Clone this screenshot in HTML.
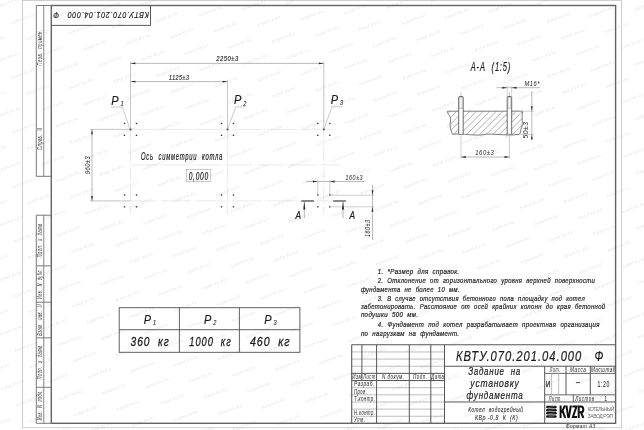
<!DOCTYPE html>
<html lang="ru">
<head>
<meta charset="utf-8">
<title>КВТУ.070.201.04.000 Ф - Задание на установку фундамента</title>
<style>
html,body{margin:0;padding:0;background:#fff;}
body{width:644px;height:430px;overflow:hidden;font-family:"Liberation Sans",sans-serif;}
#sheet{width:644px;height:430px;will-change:transform;background:#fff;}
svg{display:block;font-family:"Liberation Sans",sans-serif;}
</style>
</head>
<body>
<div id="sheet">
<svg width="644" height="430" viewBox="0 0 644 430">
<rect x="0" y="0" width="644" height="430" fill="#ffffff"/>
<g font-size="4.4" fill="#e8e8e8" font-style="italic" text-anchor="middle">
<text transform="translate(-15.7,408.4) rotate(-20.8)" textLength="25" lengthAdjust="spacingAndGlyphs">kotel-kv.kz</text>
<text transform="translate(-1.0,424.6) rotate(-20.8)" textLength="25" lengthAdjust="spacingAndGlyphs">kotel-kv.kz</text>
<text transform="translate(-16.4,353.8) rotate(-20.8)" textLength="25" lengthAdjust="spacingAndGlyphs">kotel-kv.kz</text>
<text transform="translate(-1.7,370.0) rotate(-20.8)" textLength="25" lengthAdjust="spacingAndGlyphs">kotel-kv.kz</text>
<text transform="translate(13.0,386.2) rotate(-20.8)" textLength="25" lengthAdjust="spacingAndGlyphs">kotel-kv.kz</text>
<text transform="translate(27.7,402.4) rotate(-20.8)" textLength="25" lengthAdjust="spacingAndGlyphs">kotel-kv.kz</text>
<text transform="translate(42.4,418.6) rotate(-20.8)" textLength="25" lengthAdjust="spacingAndGlyphs">kotel-kv.kz</text>
<text transform="translate(57.1,434.8) rotate(-20.8)" textLength="25" lengthAdjust="spacingAndGlyphs">kotel-kv.kz</text>
<text transform="translate(-17.1,299.2) rotate(-20.8)" textLength="25" lengthAdjust="spacingAndGlyphs">kotel-kv.kz</text>
<text transform="translate(-2.4,315.4) rotate(-20.8)" textLength="25" lengthAdjust="spacingAndGlyphs">kotel-kv.kz</text>
<text transform="translate(12.3,331.6) rotate(-20.8)" textLength="25" lengthAdjust="spacingAndGlyphs">kotel-kv.kz</text>
<text transform="translate(27.0,347.8) rotate(-20.8)" textLength="25" lengthAdjust="spacingAndGlyphs">kotel-kv.kz</text>
<text transform="translate(41.7,364.0) rotate(-20.8)" textLength="25" lengthAdjust="spacingAndGlyphs">kotel-kv.kz</text>
<text transform="translate(56.4,380.2) rotate(-20.8)" textLength="25" lengthAdjust="spacingAndGlyphs">kotel-kv.kz</text>
<text transform="translate(71.1,396.4) rotate(-20.8)" textLength="25" lengthAdjust="spacingAndGlyphs">kotel-kv.kz</text>
<text transform="translate(85.8,412.6) rotate(-20.8)" textLength="25" lengthAdjust="spacingAndGlyphs">kotel-kv.kz</text>
<text transform="translate(100.5,428.8) rotate(-20.8)" textLength="25" lengthAdjust="spacingAndGlyphs">kotel-kv.kz</text>
<text transform="translate(-17.8,244.6) rotate(-20.8)" textLength="25" lengthAdjust="spacingAndGlyphs">kotel-kv.kz</text>
<text transform="translate(-3.1,260.8) rotate(-20.8)" textLength="25" lengthAdjust="spacingAndGlyphs">kotel-kv.kz</text>
<text transform="translate(11.6,277.0) rotate(-20.8)" textLength="25" lengthAdjust="spacingAndGlyphs">kotel-kv.kz</text>
<text transform="translate(26.3,293.2) rotate(-20.8)" textLength="25" lengthAdjust="spacingAndGlyphs">kotel-kv.kz</text>
<text transform="translate(41.0,309.4) rotate(-20.8)" textLength="25" lengthAdjust="spacingAndGlyphs">kotel-kv.kz</text>
<text transform="translate(55.7,325.6) rotate(-20.8)" textLength="25" lengthAdjust="spacingAndGlyphs">kotel-kv.kz</text>
<text transform="translate(70.4,341.8) rotate(-20.8)" textLength="25" lengthAdjust="spacingAndGlyphs">kotel-kv.kz</text>
<text transform="translate(85.1,358.0) rotate(-20.8)" textLength="25" lengthAdjust="spacingAndGlyphs">kotel-kv.kz</text>
<text transform="translate(99.8,374.2) rotate(-20.8)" textLength="25" lengthAdjust="spacingAndGlyphs">kotel-kv.kz</text>
<text transform="translate(114.5,390.4) rotate(-20.8)" textLength="25" lengthAdjust="spacingAndGlyphs">kotel-kv.kz</text>
<text transform="translate(129.2,406.6) rotate(-20.8)" textLength="25" lengthAdjust="spacingAndGlyphs">kotel-kv.kz</text>
<text transform="translate(143.9,422.8) rotate(-20.8)" textLength="25" lengthAdjust="spacingAndGlyphs">kotel-kv.kz</text>
<text transform="translate(158.6,439.0) rotate(-20.8)" textLength="25" lengthAdjust="spacingAndGlyphs">kotel-kv.kz</text>
<text transform="translate(-18.5,190.0) rotate(-20.8)" textLength="25" lengthAdjust="spacingAndGlyphs">kotel-kv.kz</text>
<text transform="translate(-3.8,206.2) rotate(-20.8)" textLength="25" lengthAdjust="spacingAndGlyphs">kotel-kv.kz</text>
<text transform="translate(10.9,222.4) rotate(-20.8)" textLength="25" lengthAdjust="spacingAndGlyphs">kotel-kv.kz</text>
<text transform="translate(25.6,238.6) rotate(-20.8)" textLength="25" lengthAdjust="spacingAndGlyphs">kotel-kv.kz</text>
<text transform="translate(40.3,254.8) rotate(-20.8)" textLength="25" lengthAdjust="spacingAndGlyphs">kotel-kv.kz</text>
<text transform="translate(55.0,271.0) rotate(-20.8)" textLength="25" lengthAdjust="spacingAndGlyphs">kotel-kv.kz</text>
<text transform="translate(69.7,287.2) rotate(-20.8)" textLength="25" lengthAdjust="spacingAndGlyphs">kotel-kv.kz</text>
<text transform="translate(84.4,303.4) rotate(-20.8)" textLength="25" lengthAdjust="spacingAndGlyphs">kotel-kv.kz</text>
<text transform="translate(99.1,319.6) rotate(-20.8)" textLength="25" lengthAdjust="spacingAndGlyphs">kotel-kv.kz</text>
<text transform="translate(113.8,335.8) rotate(-20.8)" textLength="25" lengthAdjust="spacingAndGlyphs">kotel-kv.kz</text>
<text transform="translate(128.5,352.0) rotate(-20.8)" textLength="25" lengthAdjust="spacingAndGlyphs">kotel-kv.kz</text>
<text transform="translate(143.2,368.2) rotate(-20.8)" textLength="25" lengthAdjust="spacingAndGlyphs">kotel-kv.kz</text>
<text transform="translate(157.9,384.4) rotate(-20.8)" textLength="25" lengthAdjust="spacingAndGlyphs">kotel-kv.kz</text>
<text transform="translate(172.6,400.6) rotate(-20.8)" textLength="25" lengthAdjust="spacingAndGlyphs">kotel-kv.kz</text>
<text transform="translate(187.3,416.8) rotate(-20.8)" textLength="25" lengthAdjust="spacingAndGlyphs">kotel-kv.kz</text>
<text transform="translate(202.0,433.0) rotate(-20.8)" textLength="25" lengthAdjust="spacingAndGlyphs">kotel-kv.kz</text>
<text transform="translate(-19.2,135.4) rotate(-20.8)" textLength="25" lengthAdjust="spacingAndGlyphs">kotel-kv.kz</text>
<text transform="translate(-4.5,151.6) rotate(-20.8)" textLength="25" lengthAdjust="spacingAndGlyphs">kotel-kv.kz</text>
<text transform="translate(10.2,167.8) rotate(-20.8)" textLength="25" lengthAdjust="spacingAndGlyphs">kotel-kv.kz</text>
<text transform="translate(24.9,184.0) rotate(-20.8)" textLength="25" lengthAdjust="spacingAndGlyphs">kotel-kv.kz</text>
<text transform="translate(39.6,200.2) rotate(-20.8)" textLength="25" lengthAdjust="spacingAndGlyphs">kotel-kv.kz</text>
<text transform="translate(54.3,216.4) rotate(-20.8)" textLength="25" lengthAdjust="spacingAndGlyphs">kotel-kv.kz</text>
<text transform="translate(69.0,232.6) rotate(-20.8)" textLength="25" lengthAdjust="spacingAndGlyphs">kotel-kv.kz</text>
<text transform="translate(83.7,248.8) rotate(-20.8)" textLength="25" lengthAdjust="spacingAndGlyphs">kotel-kv.kz</text>
<text transform="translate(98.4,265.0) rotate(-20.8)" textLength="25" lengthAdjust="spacingAndGlyphs">kotel-kv.kz</text>
<text transform="translate(113.1,281.2) rotate(-20.8)" textLength="25" lengthAdjust="spacingAndGlyphs">kotel-kv.kz</text>
<text transform="translate(127.8,297.4) rotate(-20.8)" textLength="25" lengthAdjust="spacingAndGlyphs">kotel-kv.kz</text>
<text transform="translate(142.5,313.6) rotate(-20.8)" textLength="25" lengthAdjust="spacingAndGlyphs">kotel-kv.kz</text>
<text transform="translate(157.2,329.8) rotate(-20.8)" textLength="25" lengthAdjust="spacingAndGlyphs">kotel-kv.kz</text>
<text transform="translate(171.9,346.0) rotate(-20.8)" textLength="25" lengthAdjust="spacingAndGlyphs">kotel-kv.kz</text>
<text transform="translate(186.6,362.2) rotate(-20.8)" textLength="25" lengthAdjust="spacingAndGlyphs">kotel-kv.kz</text>
<text transform="translate(201.3,378.4) rotate(-20.8)" textLength="25" lengthAdjust="spacingAndGlyphs">kotel-kv.kz</text>
<text transform="translate(216.0,394.6) rotate(-20.8)" textLength="25" lengthAdjust="spacingAndGlyphs">kotel-kv.kz</text>
<text transform="translate(230.7,410.8) rotate(-20.8)" textLength="25" lengthAdjust="spacingAndGlyphs">kotel-kv.kz</text>
<text transform="translate(245.4,427.0) rotate(-20.8)" textLength="25" lengthAdjust="spacingAndGlyphs">kotel-kv.kz</text>
<text transform="translate(-19.9,80.8) rotate(-20.8)" textLength="25" lengthAdjust="spacingAndGlyphs">kotel-kv.kz</text>
<text transform="translate(-5.2,97.0) rotate(-20.8)" textLength="25" lengthAdjust="spacingAndGlyphs">kotel-kv.kz</text>
<text transform="translate(9.5,113.2) rotate(-20.8)" textLength="25" lengthAdjust="spacingAndGlyphs">kotel-kv.kz</text>
<text transform="translate(24.2,129.4) rotate(-20.8)" textLength="25" lengthAdjust="spacingAndGlyphs">kotel-kv.kz</text>
<text transform="translate(38.9,145.6) rotate(-20.8)" textLength="25" lengthAdjust="spacingAndGlyphs">kotel-kv.kz</text>
<text transform="translate(53.6,161.8) rotate(-20.8)" textLength="25" lengthAdjust="spacingAndGlyphs">kotel-kv.kz</text>
<text transform="translate(68.3,178.0) rotate(-20.8)" textLength="25" lengthAdjust="spacingAndGlyphs">kotel-kv.kz</text>
<text transform="translate(83.0,194.2) rotate(-20.8)" textLength="25" lengthAdjust="spacingAndGlyphs">kotel-kv.kz</text>
<text transform="translate(97.7,210.4) rotate(-20.8)" textLength="25" lengthAdjust="spacingAndGlyphs">kotel-kv.kz</text>
<text transform="translate(112.4,226.6) rotate(-20.8)" textLength="25" lengthAdjust="spacingAndGlyphs">kotel-kv.kz</text>
<text transform="translate(127.1,242.8) rotate(-20.8)" textLength="25" lengthAdjust="spacingAndGlyphs">kotel-kv.kz</text>
<text transform="translate(141.8,259.0) rotate(-20.8)" textLength="25" lengthAdjust="spacingAndGlyphs">kotel-kv.kz</text>
<text transform="translate(156.5,275.2) rotate(-20.8)" textLength="25" lengthAdjust="spacingAndGlyphs">kotel-kv.kz</text>
<text transform="translate(171.2,291.4) rotate(-20.8)" textLength="25" lengthAdjust="spacingAndGlyphs">kotel-kv.kz</text>
<text transform="translate(185.9,307.6) rotate(-20.8)" textLength="25" lengthAdjust="spacingAndGlyphs">kotel-kv.kz</text>
<text transform="translate(200.6,323.8) rotate(-20.8)" textLength="25" lengthAdjust="spacingAndGlyphs">kotel-kv.kz</text>
<text transform="translate(215.3,340.0) rotate(-20.8)" textLength="25" lengthAdjust="spacingAndGlyphs">kotel-kv.kz</text>
<text transform="translate(230.0,356.2) rotate(-20.8)" textLength="25" lengthAdjust="spacingAndGlyphs">kotel-kv.kz</text>
<text transform="translate(244.7,372.4) rotate(-20.8)" textLength="25" lengthAdjust="spacingAndGlyphs">kotel-kv.kz</text>
<text transform="translate(259.4,388.6) rotate(-20.8)" textLength="25" lengthAdjust="spacingAndGlyphs">kotel-kv.kz</text>
<text transform="translate(274.1,404.8) rotate(-20.8)" textLength="25" lengthAdjust="spacingAndGlyphs">kotel-kv.kz</text>
<text transform="translate(288.8,421.0) rotate(-20.8)" textLength="25" lengthAdjust="spacingAndGlyphs">kotel-kv.kz</text>
<text transform="translate(303.5,437.2) rotate(-20.8)" textLength="25" lengthAdjust="spacingAndGlyphs">kotel-kv.kz</text>
<text transform="translate(-5.9,42.4) rotate(-20.8)" textLength="25" lengthAdjust="spacingAndGlyphs">kotel-kv.kz</text>
<text transform="translate(8.8,58.6) rotate(-20.8)" textLength="25" lengthAdjust="spacingAndGlyphs">kotel-kv.kz</text>
<text transform="translate(23.5,74.8) rotate(-20.8)" textLength="25" lengthAdjust="spacingAndGlyphs">kotel-kv.kz</text>
<text transform="translate(38.2,91.0) rotate(-20.8)" textLength="25" lengthAdjust="spacingAndGlyphs">kotel-kv.kz</text>
<text transform="translate(52.9,107.2) rotate(-20.8)" textLength="25" lengthAdjust="spacingAndGlyphs">kotel-kv.kz</text>
<text transform="translate(67.6,123.4) rotate(-20.8)" textLength="25" lengthAdjust="spacingAndGlyphs">kotel-kv.kz</text>
<text transform="translate(82.3,139.6) rotate(-20.8)" textLength="25" lengthAdjust="spacingAndGlyphs">kotel-kv.kz</text>
<text transform="translate(97.0,155.8) rotate(-20.8)" textLength="25" lengthAdjust="spacingAndGlyphs">kotel-kv.kz</text>
<text transform="translate(111.7,172.0) rotate(-20.8)" textLength="25" lengthAdjust="spacingAndGlyphs">kotel-kv.kz</text>
<text transform="translate(126.4,188.2) rotate(-20.8)" textLength="25" lengthAdjust="spacingAndGlyphs">kotel-kv.kz</text>
<text transform="translate(141.1,204.4) rotate(-20.8)" textLength="25" lengthAdjust="spacingAndGlyphs">kotel-kv.kz</text>
<text transform="translate(155.8,220.6) rotate(-20.8)" textLength="25" lengthAdjust="spacingAndGlyphs">kotel-kv.kz</text>
<text transform="translate(170.5,236.8) rotate(-20.8)" textLength="25" lengthAdjust="spacingAndGlyphs">kotel-kv.kz</text>
<text transform="translate(185.2,253.0) rotate(-20.8)" textLength="25" lengthAdjust="spacingAndGlyphs">kotel-kv.kz</text>
<text transform="translate(199.9,269.2) rotate(-20.8)" textLength="25" lengthAdjust="spacingAndGlyphs">kotel-kv.kz</text>
<text transform="translate(214.6,285.4) rotate(-20.8)" textLength="25" lengthAdjust="spacingAndGlyphs">kotel-kv.kz</text>
<text transform="translate(229.3,301.6) rotate(-20.8)" textLength="25" lengthAdjust="spacingAndGlyphs">kotel-kv.kz</text>
<text transform="translate(244.0,317.8) rotate(-20.8)" textLength="25" lengthAdjust="spacingAndGlyphs">kotel-kv.kz</text>
<text transform="translate(258.7,334.0) rotate(-20.8)" textLength="25" lengthAdjust="spacingAndGlyphs">kotel-kv.kz</text>
<text transform="translate(273.4,350.2) rotate(-20.8)" textLength="25" lengthAdjust="spacingAndGlyphs">kotel-kv.kz</text>
<text transform="translate(288.1,366.4) rotate(-20.8)" textLength="25" lengthAdjust="spacingAndGlyphs">kotel-kv.kz</text>
<text transform="translate(302.8,382.6) rotate(-20.8)" textLength="25" lengthAdjust="spacingAndGlyphs">kotel-kv.kz</text>
<text transform="translate(317.5,398.8) rotate(-20.8)" textLength="25" lengthAdjust="spacingAndGlyphs">kotel-kv.kz</text>
<text transform="translate(332.2,415.0) rotate(-20.8)" textLength="25" lengthAdjust="spacingAndGlyphs">kotel-kv.kz</text>
<text transform="translate(346.9,431.2) rotate(-20.8)" textLength="25" lengthAdjust="spacingAndGlyphs">kotel-kv.kz</text>
<text transform="translate(8.1,4.0) rotate(-20.8)" textLength="25" lengthAdjust="spacingAndGlyphs">kotel-kv.kz</text>
<text transform="translate(22.8,20.2) rotate(-20.8)" textLength="25" lengthAdjust="spacingAndGlyphs">kotel-kv.kz</text>
<text transform="translate(37.5,36.4) rotate(-20.8)" textLength="25" lengthAdjust="spacingAndGlyphs">kotel-kv.kz</text>
<text transform="translate(52.2,52.6) rotate(-20.8)" textLength="25" lengthAdjust="spacingAndGlyphs">kotel-kv.kz</text>
<text transform="translate(66.9,68.8) rotate(-20.8)" textLength="25" lengthAdjust="spacingAndGlyphs">kotel-kv.kz</text>
<text transform="translate(81.6,85.0) rotate(-20.8)" textLength="25" lengthAdjust="spacingAndGlyphs">kotel-kv.kz</text>
<text transform="translate(96.3,101.2) rotate(-20.8)" textLength="25" lengthAdjust="spacingAndGlyphs">kotel-kv.kz</text>
<text transform="translate(111.0,117.4) rotate(-20.8)" textLength="25" lengthAdjust="spacingAndGlyphs">kotel-kv.kz</text>
<text transform="translate(125.7,133.6) rotate(-20.8)" textLength="25" lengthAdjust="spacingAndGlyphs">kotel-kv.kz</text>
<text transform="translate(140.4,149.8) rotate(-20.8)" textLength="25" lengthAdjust="spacingAndGlyphs">kotel-kv.kz</text>
<text transform="translate(155.1,166.0) rotate(-20.8)" textLength="25" lengthAdjust="spacingAndGlyphs">kotel-kv.kz</text>
<text transform="translate(169.8,182.2) rotate(-20.8)" textLength="25" lengthAdjust="spacingAndGlyphs">kotel-kv.kz</text>
<text transform="translate(184.5,198.4) rotate(-20.8)" textLength="25" lengthAdjust="spacingAndGlyphs">kotel-kv.kz</text>
<text transform="translate(199.2,214.6) rotate(-20.8)" textLength="25" lengthAdjust="spacingAndGlyphs">kotel-kv.kz</text>
<text transform="translate(213.9,230.8) rotate(-20.8)" textLength="25" lengthAdjust="spacingAndGlyphs">kotel-kv.kz</text>
<text transform="translate(228.6,247.0) rotate(-20.8)" textLength="25" lengthAdjust="spacingAndGlyphs">kotel-kv.kz</text>
<text transform="translate(243.3,263.2) rotate(-20.8)" textLength="25" lengthAdjust="spacingAndGlyphs">kotel-kv.kz</text>
<text transform="translate(258.0,279.4) rotate(-20.8)" textLength="25" lengthAdjust="spacingAndGlyphs">kotel-kv.kz</text>
<text transform="translate(272.7,295.6) rotate(-20.8)" textLength="25" lengthAdjust="spacingAndGlyphs">kotel-kv.kz</text>
<text transform="translate(287.4,311.8) rotate(-20.8)" textLength="25" lengthAdjust="spacingAndGlyphs">kotel-kv.kz</text>
<text transform="translate(302.1,328.0) rotate(-20.8)" textLength="25" lengthAdjust="spacingAndGlyphs">kotel-kv.kz</text>
<text transform="translate(316.8,344.2) rotate(-20.8)" textLength="25" lengthAdjust="spacingAndGlyphs">kotel-kv.kz</text>
<text transform="translate(331.5,360.4) rotate(-20.8)" textLength="25" lengthAdjust="spacingAndGlyphs">kotel-kv.kz</text>
<text transform="translate(346.2,376.6) rotate(-20.8)" textLength="25" lengthAdjust="spacingAndGlyphs">kotel-kv.kz</text>
<text transform="translate(360.9,392.8) rotate(-20.8)" textLength="25" lengthAdjust="spacingAndGlyphs">kotel-kv.kz</text>
<text transform="translate(375.6,409.0) rotate(-20.8)" textLength="25" lengthAdjust="spacingAndGlyphs">kotel-kv.kz</text>
<text transform="translate(390.3,425.2) rotate(-20.8)" textLength="25" lengthAdjust="spacingAndGlyphs">kotel-kv.kz</text>
<text transform="translate(51.5,-2.0) rotate(-20.8)" textLength="25" lengthAdjust="spacingAndGlyphs">kotel-kv.kz</text>
<text transform="translate(66.2,14.2) rotate(-20.8)" textLength="25" lengthAdjust="spacingAndGlyphs">kotel-kv.kz</text>
<text transform="translate(80.9,30.4) rotate(-20.8)" textLength="25" lengthAdjust="spacingAndGlyphs">kotel-kv.kz</text>
<text transform="translate(95.6,46.6) rotate(-20.8)" textLength="25" lengthAdjust="spacingAndGlyphs">kotel-kv.kz</text>
<text transform="translate(110.3,62.8) rotate(-20.8)" textLength="25" lengthAdjust="spacingAndGlyphs">kotel-kv.kz</text>
<text transform="translate(125.0,79.0) rotate(-20.8)" textLength="25" lengthAdjust="spacingAndGlyphs">kotel-kv.kz</text>
<text transform="translate(139.7,95.2) rotate(-20.8)" textLength="25" lengthAdjust="spacingAndGlyphs">kotel-kv.kz</text>
<text transform="translate(154.4,111.4) rotate(-20.8)" textLength="25" lengthAdjust="spacingAndGlyphs">kotel-kv.kz</text>
<text transform="translate(169.1,127.6) rotate(-20.8)" textLength="25" lengthAdjust="spacingAndGlyphs">kotel-kv.kz</text>
<text transform="translate(183.8,143.8) rotate(-20.8)" textLength="25" lengthAdjust="spacingAndGlyphs">kotel-kv.kz</text>
<text transform="translate(198.5,160.0) rotate(-20.8)" textLength="25" lengthAdjust="spacingAndGlyphs">kotel-kv.kz</text>
<text transform="translate(213.2,176.2) rotate(-20.8)" textLength="25" lengthAdjust="spacingAndGlyphs">kotel-kv.kz</text>
<text transform="translate(227.9,192.4) rotate(-20.8)" textLength="25" lengthAdjust="spacingAndGlyphs">kotel-kv.kz</text>
<text transform="translate(242.6,208.6) rotate(-20.8)" textLength="25" lengthAdjust="spacingAndGlyphs">kotel-kv.kz</text>
<text transform="translate(257.3,224.8) rotate(-20.8)" textLength="25" lengthAdjust="spacingAndGlyphs">kotel-kv.kz</text>
<text transform="translate(272.0,241.0) rotate(-20.8)" textLength="25" lengthAdjust="spacingAndGlyphs">kotel-kv.kz</text>
<text transform="translate(286.7,257.2) rotate(-20.8)" textLength="25" lengthAdjust="spacingAndGlyphs">kotel-kv.kz</text>
<text transform="translate(301.4,273.4) rotate(-20.8)" textLength="25" lengthAdjust="spacingAndGlyphs">kotel-kv.kz</text>
<text transform="translate(316.1,289.6) rotate(-20.8)" textLength="25" lengthAdjust="spacingAndGlyphs">kotel-kv.kz</text>
<text transform="translate(330.8,305.8) rotate(-20.8)" textLength="25" lengthAdjust="spacingAndGlyphs">kotel-kv.kz</text>
<text transform="translate(345.5,322.0) rotate(-20.8)" textLength="25" lengthAdjust="spacingAndGlyphs">kotel-kv.kz</text>
<text transform="translate(360.2,338.2) rotate(-20.8)" textLength="25" lengthAdjust="spacingAndGlyphs">kotel-kv.kz</text>
<text transform="translate(374.9,354.4) rotate(-20.8)" textLength="25" lengthAdjust="spacingAndGlyphs">kotel-kv.kz</text>
<text transform="translate(389.6,370.6) rotate(-20.8)" textLength="25" lengthAdjust="spacingAndGlyphs">kotel-kv.kz</text>
<text transform="translate(404.3,386.8) rotate(-20.8)" textLength="25" lengthAdjust="spacingAndGlyphs">kotel-kv.kz</text>
<text transform="translate(419.0,403.0) rotate(-20.8)" textLength="25" lengthAdjust="spacingAndGlyphs">kotel-kv.kz</text>
<text transform="translate(433.7,419.2) rotate(-20.8)" textLength="25" lengthAdjust="spacingAndGlyphs">kotel-kv.kz</text>
<text transform="translate(448.4,435.4) rotate(-20.8)" textLength="25" lengthAdjust="spacingAndGlyphs">kotel-kv.kz</text>
<text transform="translate(94.9,-8.0) rotate(-20.8)" textLength="25" lengthAdjust="spacingAndGlyphs">kotel-kv.kz</text>
<text transform="translate(109.6,8.2) rotate(-20.8)" textLength="25" lengthAdjust="spacingAndGlyphs">kotel-kv.kz</text>
<text transform="translate(124.3,24.4) rotate(-20.8)" textLength="25" lengthAdjust="spacingAndGlyphs">kotel-kv.kz</text>
<text transform="translate(139.0,40.6) rotate(-20.8)" textLength="25" lengthAdjust="spacingAndGlyphs">kotel-kv.kz</text>
<text transform="translate(153.7,56.8) rotate(-20.8)" textLength="25" lengthAdjust="spacingAndGlyphs">kotel-kv.kz</text>
<text transform="translate(168.4,73.0) rotate(-20.8)" textLength="25" lengthAdjust="spacingAndGlyphs">kotel-kv.kz</text>
<text transform="translate(183.1,89.2) rotate(-20.8)" textLength="25" lengthAdjust="spacingAndGlyphs">kotel-kv.kz</text>
<text transform="translate(197.8,105.4) rotate(-20.8)" textLength="25" lengthAdjust="spacingAndGlyphs">kotel-kv.kz</text>
<text transform="translate(212.5,121.6) rotate(-20.8)" textLength="25" lengthAdjust="spacingAndGlyphs">kotel-kv.kz</text>
<text transform="translate(227.2,137.8) rotate(-20.8)" textLength="25" lengthAdjust="spacingAndGlyphs">kotel-kv.kz</text>
<text transform="translate(241.9,154.0) rotate(-20.8)" textLength="25" lengthAdjust="spacingAndGlyphs">kotel-kv.kz</text>
<text transform="translate(256.6,170.2) rotate(-20.8)" textLength="25" lengthAdjust="spacingAndGlyphs">kotel-kv.kz</text>
<text transform="translate(271.3,186.4) rotate(-20.8)" textLength="25" lengthAdjust="spacingAndGlyphs">kotel-kv.kz</text>
<text transform="translate(286.0,202.6) rotate(-20.8)" textLength="25" lengthAdjust="spacingAndGlyphs">kotel-kv.kz</text>
<text transform="translate(300.7,218.8) rotate(-20.8)" textLength="25" lengthAdjust="spacingAndGlyphs">kotel-kv.kz</text>
<text transform="translate(315.4,235.0) rotate(-20.8)" textLength="25" lengthAdjust="spacingAndGlyphs">kotel-kv.kz</text>
<text transform="translate(330.1,251.2) rotate(-20.8)" textLength="25" lengthAdjust="spacingAndGlyphs">kotel-kv.kz</text>
<text transform="translate(344.8,267.4) rotate(-20.8)" textLength="25" lengthAdjust="spacingAndGlyphs">kotel-kv.kz</text>
<text transform="translate(359.5,283.6) rotate(-20.8)" textLength="25" lengthAdjust="spacingAndGlyphs">kotel-kv.kz</text>
<text transform="translate(374.2,299.8) rotate(-20.8)" textLength="25" lengthAdjust="spacingAndGlyphs">kotel-kv.kz</text>
<text transform="translate(388.9,316.0) rotate(-20.8)" textLength="25" lengthAdjust="spacingAndGlyphs">kotel-kv.kz</text>
<text transform="translate(403.6,332.2) rotate(-20.8)" textLength="25" lengthAdjust="spacingAndGlyphs">kotel-kv.kz</text>
<text transform="translate(418.3,348.4) rotate(-20.8)" textLength="25" lengthAdjust="spacingAndGlyphs">kotel-kv.kz</text>
<text transform="translate(433.0,364.6) rotate(-20.8)" textLength="25" lengthAdjust="spacingAndGlyphs">kotel-kv.kz</text>
<text transform="translate(447.7,380.8) rotate(-20.8)" textLength="25" lengthAdjust="spacingAndGlyphs">kotel-kv.kz</text>
<text transform="translate(462.4,397.0) rotate(-20.8)" textLength="25" lengthAdjust="spacingAndGlyphs">kotel-kv.kz</text>
<text transform="translate(477.1,413.2) rotate(-20.8)" textLength="25" lengthAdjust="spacingAndGlyphs">kotel-kv.kz</text>
<text transform="translate(491.8,429.4) rotate(-20.8)" textLength="25" lengthAdjust="spacingAndGlyphs">kotel-kv.kz</text>
<text transform="translate(153.0,2.2) rotate(-20.8)" textLength="25" lengthAdjust="spacingAndGlyphs">kotel-kv.kz</text>
<text transform="translate(167.7,18.4) rotate(-20.8)" textLength="25" lengthAdjust="spacingAndGlyphs">kotel-kv.kz</text>
<text transform="translate(182.4,34.6) rotate(-20.8)" textLength="25" lengthAdjust="spacingAndGlyphs">kotel-kv.kz</text>
<text transform="translate(197.1,50.8) rotate(-20.8)" textLength="25" lengthAdjust="spacingAndGlyphs">kotel-kv.kz</text>
<text transform="translate(211.8,67.0) rotate(-20.8)" textLength="25" lengthAdjust="spacingAndGlyphs">kotel-kv.kz</text>
<text transform="translate(226.5,83.2) rotate(-20.8)" textLength="25" lengthAdjust="spacingAndGlyphs">kotel-kv.kz</text>
<text transform="translate(241.2,99.4) rotate(-20.8)" textLength="25" lengthAdjust="spacingAndGlyphs">kotel-kv.kz</text>
<text transform="translate(255.9,115.6) rotate(-20.8)" textLength="25" lengthAdjust="spacingAndGlyphs">kotel-kv.kz</text>
<text transform="translate(270.6,131.8) rotate(-20.8)" textLength="25" lengthAdjust="spacingAndGlyphs">kotel-kv.kz</text>
<text transform="translate(285.3,148.0) rotate(-20.8)" textLength="25" lengthAdjust="spacingAndGlyphs">kotel-kv.kz</text>
<text transform="translate(300.0,164.2) rotate(-20.8)" textLength="25" lengthAdjust="spacingAndGlyphs">kotel-kv.kz</text>
<text transform="translate(314.7,180.4) rotate(-20.8)" textLength="25" lengthAdjust="spacingAndGlyphs">kotel-kv.kz</text>
<text transform="translate(329.4,196.6) rotate(-20.8)" textLength="25" lengthAdjust="spacingAndGlyphs">kotel-kv.kz</text>
<text transform="translate(344.1,212.8) rotate(-20.8)" textLength="25" lengthAdjust="spacingAndGlyphs">kotel-kv.kz</text>
<text transform="translate(358.8,229.0) rotate(-20.8)" textLength="25" lengthAdjust="spacingAndGlyphs">kotel-kv.kz</text>
<text transform="translate(373.5,245.2) rotate(-20.8)" textLength="25" lengthAdjust="spacingAndGlyphs">kotel-kv.kz</text>
<text transform="translate(388.2,261.4) rotate(-20.8)" textLength="25" lengthAdjust="spacingAndGlyphs">kotel-kv.kz</text>
<text transform="translate(402.9,277.6) rotate(-20.8)" textLength="25" lengthAdjust="spacingAndGlyphs">kotel-kv.kz</text>
<text transform="translate(417.6,293.8) rotate(-20.8)" textLength="25" lengthAdjust="spacingAndGlyphs">kotel-kv.kz</text>
<text transform="translate(432.3,310.0) rotate(-20.8)" textLength="25" lengthAdjust="spacingAndGlyphs">kotel-kv.kz</text>
<text transform="translate(447.0,326.2) rotate(-20.8)" textLength="25" lengthAdjust="spacingAndGlyphs">kotel-kv.kz</text>
<text transform="translate(461.7,342.4) rotate(-20.8)" textLength="25" lengthAdjust="spacingAndGlyphs">kotel-kv.kz</text>
<text transform="translate(476.4,358.6) rotate(-20.8)" textLength="25" lengthAdjust="spacingAndGlyphs">kotel-kv.kz</text>
<text transform="translate(491.1,374.8) rotate(-20.8)" textLength="25" lengthAdjust="spacingAndGlyphs">kotel-kv.kz</text>
<text transform="translate(505.8,391.0) rotate(-20.8)" textLength="25" lengthAdjust="spacingAndGlyphs">kotel-kv.kz</text>
<text transform="translate(520.5,407.2) rotate(-20.8)" textLength="25" lengthAdjust="spacingAndGlyphs">kotel-kv.kz</text>
<text transform="translate(535.2,423.4) rotate(-20.8)" textLength="25" lengthAdjust="spacingAndGlyphs">kotel-kv.kz</text>
<text transform="translate(549.9,439.6) rotate(-20.8)" textLength="25" lengthAdjust="spacingAndGlyphs">kotel-kv.kz</text>
<text transform="translate(196.4,-3.8) rotate(-20.8)" textLength="25" lengthAdjust="spacingAndGlyphs">kotel-kv.kz</text>
<text transform="translate(211.1,12.4) rotate(-20.8)" textLength="25" lengthAdjust="spacingAndGlyphs">kotel-kv.kz</text>
<text transform="translate(225.8,28.6) rotate(-20.8)" textLength="25" lengthAdjust="spacingAndGlyphs">kotel-kv.kz</text>
<text transform="translate(240.5,44.8) rotate(-20.8)" textLength="25" lengthAdjust="spacingAndGlyphs">kotel-kv.kz</text>
<text transform="translate(255.2,61.0) rotate(-20.8)" textLength="25" lengthAdjust="spacingAndGlyphs">kotel-kv.kz</text>
<text transform="translate(269.9,77.2) rotate(-20.8)" textLength="25" lengthAdjust="spacingAndGlyphs">kotel-kv.kz</text>
<text transform="translate(284.6,93.4) rotate(-20.8)" textLength="25" lengthAdjust="spacingAndGlyphs">kotel-kv.kz</text>
<text transform="translate(299.3,109.6) rotate(-20.8)" textLength="25" lengthAdjust="spacingAndGlyphs">kotel-kv.kz</text>
<text transform="translate(314.0,125.8) rotate(-20.8)" textLength="25" lengthAdjust="spacingAndGlyphs">kotel-kv.kz</text>
<text transform="translate(328.7,142.0) rotate(-20.8)" textLength="25" lengthAdjust="spacingAndGlyphs">kotel-kv.kz</text>
<text transform="translate(343.4,158.2) rotate(-20.8)" textLength="25" lengthAdjust="spacingAndGlyphs">kotel-kv.kz</text>
<text transform="translate(358.1,174.4) rotate(-20.8)" textLength="25" lengthAdjust="spacingAndGlyphs">kotel-kv.kz</text>
<text transform="translate(372.8,190.6) rotate(-20.8)" textLength="25" lengthAdjust="spacingAndGlyphs">kotel-kv.kz</text>
<text transform="translate(387.5,206.8) rotate(-20.8)" textLength="25" lengthAdjust="spacingAndGlyphs">kotel-kv.kz</text>
<text transform="translate(402.2,223.0) rotate(-20.8)" textLength="25" lengthAdjust="spacingAndGlyphs">kotel-kv.kz</text>
<text transform="translate(416.9,239.2) rotate(-20.8)" textLength="25" lengthAdjust="spacingAndGlyphs">kotel-kv.kz</text>
<text transform="translate(431.6,255.4) rotate(-20.8)" textLength="25" lengthAdjust="spacingAndGlyphs">kotel-kv.kz</text>
<text transform="translate(446.3,271.6) rotate(-20.8)" textLength="25" lengthAdjust="spacingAndGlyphs">kotel-kv.kz</text>
<text transform="translate(461.0,287.8) rotate(-20.8)" textLength="25" lengthAdjust="spacingAndGlyphs">kotel-kv.kz</text>
<text transform="translate(475.7,304.0) rotate(-20.8)" textLength="25" lengthAdjust="spacingAndGlyphs">kotel-kv.kz</text>
<text transform="translate(490.4,320.2) rotate(-20.8)" textLength="25" lengthAdjust="spacingAndGlyphs">kotel-kv.kz</text>
<text transform="translate(505.1,336.4) rotate(-20.8)" textLength="25" lengthAdjust="spacingAndGlyphs">kotel-kv.kz</text>
<text transform="translate(519.8,352.6) rotate(-20.8)" textLength="25" lengthAdjust="spacingAndGlyphs">kotel-kv.kz</text>
<text transform="translate(534.5,368.8) rotate(-20.8)" textLength="25" lengthAdjust="spacingAndGlyphs">kotel-kv.kz</text>
<text transform="translate(549.2,385.0) rotate(-20.8)" textLength="25" lengthAdjust="spacingAndGlyphs">kotel-kv.kz</text>
<text transform="translate(563.9,401.2) rotate(-20.8)" textLength="25" lengthAdjust="spacingAndGlyphs">kotel-kv.kz</text>
<text transform="translate(578.6,417.4) rotate(-20.8)" textLength="25" lengthAdjust="spacingAndGlyphs">kotel-kv.kz</text>
<text transform="translate(593.3,433.6) rotate(-20.8)" textLength="25" lengthAdjust="spacingAndGlyphs">kotel-kv.kz</text>
<text transform="translate(239.8,-9.8) rotate(-20.8)" textLength="25" lengthAdjust="spacingAndGlyphs">kotel-kv.kz</text>
<text transform="translate(254.5,6.4) rotate(-20.8)" textLength="25" lengthAdjust="spacingAndGlyphs">kotel-kv.kz</text>
<text transform="translate(269.2,22.6) rotate(-20.8)" textLength="25" lengthAdjust="spacingAndGlyphs">kotel-kv.kz</text>
<text transform="translate(283.9,38.8) rotate(-20.8)" textLength="25" lengthAdjust="spacingAndGlyphs">kotel-kv.kz</text>
<text transform="translate(298.6,55.0) rotate(-20.8)" textLength="25" lengthAdjust="spacingAndGlyphs">kotel-kv.kz</text>
<text transform="translate(313.3,71.2) rotate(-20.8)" textLength="25" lengthAdjust="spacingAndGlyphs">kotel-kv.kz</text>
<text transform="translate(328.0,87.4) rotate(-20.8)" textLength="25" lengthAdjust="spacingAndGlyphs">kotel-kv.kz</text>
<text transform="translate(342.7,103.6) rotate(-20.8)" textLength="25" lengthAdjust="spacingAndGlyphs">kotel-kv.kz</text>
<text transform="translate(357.4,119.8) rotate(-20.8)" textLength="25" lengthAdjust="spacingAndGlyphs">kotel-kv.kz</text>
<text transform="translate(372.1,136.0) rotate(-20.8)" textLength="25" lengthAdjust="spacingAndGlyphs">kotel-kv.kz</text>
<text transform="translate(386.8,152.2) rotate(-20.8)" textLength="25" lengthAdjust="spacingAndGlyphs">kotel-kv.kz</text>
<text transform="translate(401.5,168.4) rotate(-20.8)" textLength="25" lengthAdjust="spacingAndGlyphs">kotel-kv.kz</text>
<text transform="translate(416.2,184.6) rotate(-20.8)" textLength="25" lengthAdjust="spacingAndGlyphs">kotel-kv.kz</text>
<text transform="translate(430.9,200.8) rotate(-20.8)" textLength="25" lengthAdjust="spacingAndGlyphs">kotel-kv.kz</text>
<text transform="translate(445.6,217.0) rotate(-20.8)" textLength="25" lengthAdjust="spacingAndGlyphs">kotel-kv.kz</text>
<text transform="translate(460.3,233.2) rotate(-20.8)" textLength="25" lengthAdjust="spacingAndGlyphs">kotel-kv.kz</text>
<text transform="translate(475.0,249.4) rotate(-20.8)" textLength="25" lengthAdjust="spacingAndGlyphs">kotel-kv.kz</text>
<text transform="translate(489.7,265.6) rotate(-20.8)" textLength="25" lengthAdjust="spacingAndGlyphs">kotel-kv.kz</text>
<text transform="translate(504.4,281.8) rotate(-20.8)" textLength="25" lengthAdjust="spacingAndGlyphs">kotel-kv.kz</text>
<text transform="translate(519.1,298.0) rotate(-20.8)" textLength="25" lengthAdjust="spacingAndGlyphs">kotel-kv.kz</text>
<text transform="translate(533.8,314.2) rotate(-20.8)" textLength="25" lengthAdjust="spacingAndGlyphs">kotel-kv.kz</text>
<text transform="translate(548.5,330.4) rotate(-20.8)" textLength="25" lengthAdjust="spacingAndGlyphs">kotel-kv.kz</text>
<text transform="translate(563.2,346.6) rotate(-20.8)" textLength="25" lengthAdjust="spacingAndGlyphs">kotel-kv.kz</text>
<text transform="translate(577.9,362.8) rotate(-20.8)" textLength="25" lengthAdjust="spacingAndGlyphs">kotel-kv.kz</text>
<text transform="translate(592.6,379.0) rotate(-20.8)" textLength="25" lengthAdjust="spacingAndGlyphs">kotel-kv.kz</text>
<text transform="translate(607.3,395.2) rotate(-20.8)" textLength="25" lengthAdjust="spacingAndGlyphs">kotel-kv.kz</text>
<text transform="translate(622.0,411.4) rotate(-20.8)" textLength="25" lengthAdjust="spacingAndGlyphs">kotel-kv.kz</text>
<text transform="translate(636.7,427.6) rotate(-20.8)" textLength="25" lengthAdjust="spacingAndGlyphs">kotel-kv.kz</text>
<text transform="translate(297.9,0.4) rotate(-20.8)" textLength="25" lengthAdjust="spacingAndGlyphs">kotel-kv.kz</text>
<text transform="translate(312.6,16.6) rotate(-20.8)" textLength="25" lengthAdjust="spacingAndGlyphs">kotel-kv.kz</text>
<text transform="translate(327.3,32.8) rotate(-20.8)" textLength="25" lengthAdjust="spacingAndGlyphs">kotel-kv.kz</text>
<text transform="translate(342.0,49.0) rotate(-20.8)" textLength="25" lengthAdjust="spacingAndGlyphs">kotel-kv.kz</text>
<text transform="translate(356.7,65.2) rotate(-20.8)" textLength="25" lengthAdjust="spacingAndGlyphs">kotel-kv.kz</text>
<text transform="translate(371.4,81.4) rotate(-20.8)" textLength="25" lengthAdjust="spacingAndGlyphs">kotel-kv.kz</text>
<text transform="translate(386.1,97.6) rotate(-20.8)" textLength="25" lengthAdjust="spacingAndGlyphs">kotel-kv.kz</text>
<text transform="translate(400.8,113.8) rotate(-20.8)" textLength="25" lengthAdjust="spacingAndGlyphs">kotel-kv.kz</text>
<text transform="translate(415.5,130.0) rotate(-20.8)" textLength="25" lengthAdjust="spacingAndGlyphs">kotel-kv.kz</text>
<text transform="translate(430.2,146.2) rotate(-20.8)" textLength="25" lengthAdjust="spacingAndGlyphs">kotel-kv.kz</text>
<text transform="translate(444.9,162.4) rotate(-20.8)" textLength="25" lengthAdjust="spacingAndGlyphs">kotel-kv.kz</text>
<text transform="translate(459.6,178.6) rotate(-20.8)" textLength="25" lengthAdjust="spacingAndGlyphs">kotel-kv.kz</text>
<text transform="translate(474.3,194.8) rotate(-20.8)" textLength="25" lengthAdjust="spacingAndGlyphs">kotel-kv.kz</text>
<text transform="translate(489.0,211.0) rotate(-20.8)" textLength="25" lengthAdjust="spacingAndGlyphs">kotel-kv.kz</text>
<text transform="translate(503.7,227.2) rotate(-20.8)" textLength="25" lengthAdjust="spacingAndGlyphs">kotel-kv.kz</text>
<text transform="translate(518.4,243.4) rotate(-20.8)" textLength="25" lengthAdjust="spacingAndGlyphs">kotel-kv.kz</text>
<text transform="translate(533.1,259.6) rotate(-20.8)" textLength="25" lengthAdjust="spacingAndGlyphs">kotel-kv.kz</text>
<text transform="translate(547.8,275.8) rotate(-20.8)" textLength="25" lengthAdjust="spacingAndGlyphs">kotel-kv.kz</text>
<text transform="translate(562.5,292.0) rotate(-20.8)" textLength="25" lengthAdjust="spacingAndGlyphs">kotel-kv.kz</text>
<text transform="translate(577.2,308.2) rotate(-20.8)" textLength="25" lengthAdjust="spacingAndGlyphs">kotel-kv.kz</text>
<text transform="translate(591.9,324.4) rotate(-20.8)" textLength="25" lengthAdjust="spacingAndGlyphs">kotel-kv.kz</text>
<text transform="translate(606.6,340.6) rotate(-20.8)" textLength="25" lengthAdjust="spacingAndGlyphs">kotel-kv.kz</text>
<text transform="translate(621.3,356.8) rotate(-20.8)" textLength="25" lengthAdjust="spacingAndGlyphs">kotel-kv.kz</text>
<text transform="translate(636.0,373.0) rotate(-20.8)" textLength="25" lengthAdjust="spacingAndGlyphs">kotel-kv.kz</text>
<text transform="translate(650.7,389.2) rotate(-20.8)" textLength="25" lengthAdjust="spacingAndGlyphs">kotel-kv.kz</text>
<text transform="translate(341.3,-5.6) rotate(-20.8)" textLength="25" lengthAdjust="spacingAndGlyphs">kotel-kv.kz</text>
<text transform="translate(356.0,10.6) rotate(-20.8)" textLength="25" lengthAdjust="spacingAndGlyphs">kotel-kv.kz</text>
<text transform="translate(370.7,26.8) rotate(-20.8)" textLength="25" lengthAdjust="spacingAndGlyphs">kotel-kv.kz</text>
<text transform="translate(385.4,43.0) rotate(-20.8)" textLength="25" lengthAdjust="spacingAndGlyphs">kotel-kv.kz</text>
<text transform="translate(400.1,59.2) rotate(-20.8)" textLength="25" lengthAdjust="spacingAndGlyphs">kotel-kv.kz</text>
<text transform="translate(414.8,75.4) rotate(-20.8)" textLength="25" lengthAdjust="spacingAndGlyphs">kotel-kv.kz</text>
<text transform="translate(429.5,91.6) rotate(-20.8)" textLength="25" lengthAdjust="spacingAndGlyphs">kotel-kv.kz</text>
<text transform="translate(444.2,107.8) rotate(-20.8)" textLength="25" lengthAdjust="spacingAndGlyphs">kotel-kv.kz</text>
<text transform="translate(458.9,124.0) rotate(-20.8)" textLength="25" lengthAdjust="spacingAndGlyphs">kotel-kv.kz</text>
<text transform="translate(473.6,140.2) rotate(-20.8)" textLength="25" lengthAdjust="spacingAndGlyphs">kotel-kv.kz</text>
<text transform="translate(488.3,156.4) rotate(-20.8)" textLength="25" lengthAdjust="spacingAndGlyphs">kotel-kv.kz</text>
<text transform="translate(503.0,172.6) rotate(-20.8)" textLength="25" lengthAdjust="spacingAndGlyphs">kotel-kv.kz</text>
<text transform="translate(517.7,188.8) rotate(-20.8)" textLength="25" lengthAdjust="spacingAndGlyphs">kotel-kv.kz</text>
<text transform="translate(532.4,205.0) rotate(-20.8)" textLength="25" lengthAdjust="spacingAndGlyphs">kotel-kv.kz</text>
<text transform="translate(547.1,221.2) rotate(-20.8)" textLength="25" lengthAdjust="spacingAndGlyphs">kotel-kv.kz</text>
<text transform="translate(561.8,237.4) rotate(-20.8)" textLength="25" lengthAdjust="spacingAndGlyphs">kotel-kv.kz</text>
<text transform="translate(576.5,253.6) rotate(-20.8)" textLength="25" lengthAdjust="spacingAndGlyphs">kotel-kv.kz</text>
<text transform="translate(591.2,269.8) rotate(-20.8)" textLength="25" lengthAdjust="spacingAndGlyphs">kotel-kv.kz</text>
<text transform="translate(605.9,286.0) rotate(-20.8)" textLength="25" lengthAdjust="spacingAndGlyphs">kotel-kv.kz</text>
<text transform="translate(620.6,302.2) rotate(-20.8)" textLength="25" lengthAdjust="spacingAndGlyphs">kotel-kv.kz</text>
<text transform="translate(635.3,318.4) rotate(-20.8)" textLength="25" lengthAdjust="spacingAndGlyphs">kotel-kv.kz</text>
<text transform="translate(650.0,334.6) rotate(-20.8)" textLength="25" lengthAdjust="spacingAndGlyphs">kotel-kv.kz</text>
<text transform="translate(399.4,4.6) rotate(-20.8)" textLength="25" lengthAdjust="spacingAndGlyphs">kotel-kv.kz</text>
<text transform="translate(414.1,20.8) rotate(-20.8)" textLength="25" lengthAdjust="spacingAndGlyphs">kotel-kv.kz</text>
<text transform="translate(428.8,37.0) rotate(-20.8)" textLength="25" lengthAdjust="spacingAndGlyphs">kotel-kv.kz</text>
<text transform="translate(443.5,53.2) rotate(-20.8)" textLength="25" lengthAdjust="spacingAndGlyphs">kotel-kv.kz</text>
<text transform="translate(458.2,69.4) rotate(-20.8)" textLength="25" lengthAdjust="spacingAndGlyphs">kotel-kv.kz</text>
<text transform="translate(472.9,85.6) rotate(-20.8)" textLength="25" lengthAdjust="spacingAndGlyphs">kotel-kv.kz</text>
<text transform="translate(487.6,101.8) rotate(-20.8)" textLength="25" lengthAdjust="spacingAndGlyphs">kotel-kv.kz</text>
<text transform="translate(502.3,118.0) rotate(-20.8)" textLength="25" lengthAdjust="spacingAndGlyphs">kotel-kv.kz</text>
<text transform="translate(517.0,134.2) rotate(-20.8)" textLength="25" lengthAdjust="spacingAndGlyphs">kotel-kv.kz</text>
<text transform="translate(531.7,150.4) rotate(-20.8)" textLength="25" lengthAdjust="spacingAndGlyphs">kotel-kv.kz</text>
<text transform="translate(546.4,166.6) rotate(-20.8)" textLength="25" lengthAdjust="spacingAndGlyphs">kotel-kv.kz</text>
<text transform="translate(561.1,182.8) rotate(-20.8)" textLength="25" lengthAdjust="spacingAndGlyphs">kotel-kv.kz</text>
<text transform="translate(575.8,199.0) rotate(-20.8)" textLength="25" lengthAdjust="spacingAndGlyphs">kotel-kv.kz</text>
<text transform="translate(590.5,215.2) rotate(-20.8)" textLength="25" lengthAdjust="spacingAndGlyphs">kotel-kv.kz</text>
<text transform="translate(605.2,231.4) rotate(-20.8)" textLength="25" lengthAdjust="spacingAndGlyphs">kotel-kv.kz</text>
<text transform="translate(619.9,247.6) rotate(-20.8)" textLength="25" lengthAdjust="spacingAndGlyphs">kotel-kv.kz</text>
<text transform="translate(634.6,263.8) rotate(-20.8)" textLength="25" lengthAdjust="spacingAndGlyphs">kotel-kv.kz</text>
<text transform="translate(649.3,280.0) rotate(-20.8)" textLength="25" lengthAdjust="spacingAndGlyphs">kotel-kv.kz</text>
<text transform="translate(664.0,296.2) rotate(-20.8)" textLength="25" lengthAdjust="spacingAndGlyphs">kotel-kv.kz</text>
<text transform="translate(442.8,-1.4) rotate(-20.8)" textLength="25" lengthAdjust="spacingAndGlyphs">kotel-kv.kz</text>
<text transform="translate(457.5,14.8) rotate(-20.8)" textLength="25" lengthAdjust="spacingAndGlyphs">kotel-kv.kz</text>
<text transform="translate(472.2,31.0) rotate(-20.8)" textLength="25" lengthAdjust="spacingAndGlyphs">kotel-kv.kz</text>
<text transform="translate(486.9,47.2) rotate(-20.8)" textLength="25" lengthAdjust="spacingAndGlyphs">kotel-kv.kz</text>
<text transform="translate(501.6,63.4) rotate(-20.8)" textLength="25" lengthAdjust="spacingAndGlyphs">kotel-kv.kz</text>
<text transform="translate(516.3,79.6) rotate(-20.8)" textLength="25" lengthAdjust="spacingAndGlyphs">kotel-kv.kz</text>
<text transform="translate(531.0,95.8) rotate(-20.8)" textLength="25" lengthAdjust="spacingAndGlyphs">kotel-kv.kz</text>
<text transform="translate(545.7,112.0) rotate(-20.8)" textLength="25" lengthAdjust="spacingAndGlyphs">kotel-kv.kz</text>
<text transform="translate(560.4,128.2) rotate(-20.8)" textLength="25" lengthAdjust="spacingAndGlyphs">kotel-kv.kz</text>
<text transform="translate(575.1,144.4) rotate(-20.8)" textLength="25" lengthAdjust="spacingAndGlyphs">kotel-kv.kz</text>
<text transform="translate(589.8,160.6) rotate(-20.8)" textLength="25" lengthAdjust="spacingAndGlyphs">kotel-kv.kz</text>
<text transform="translate(604.5,176.8) rotate(-20.8)" textLength="25" lengthAdjust="spacingAndGlyphs">kotel-kv.kz</text>
<text transform="translate(619.2,193.0) rotate(-20.8)" textLength="25" lengthAdjust="spacingAndGlyphs">kotel-kv.kz</text>
<text transform="translate(633.9,209.2) rotate(-20.8)" textLength="25" lengthAdjust="spacingAndGlyphs">kotel-kv.kz</text>
<text transform="translate(648.6,225.4) rotate(-20.8)" textLength="25" lengthAdjust="spacingAndGlyphs">kotel-kv.kz</text>
<text transform="translate(663.3,241.6) rotate(-20.8)" textLength="25" lengthAdjust="spacingAndGlyphs">kotel-kv.kz</text>
<text transform="translate(486.2,-7.4) rotate(-20.8)" textLength="25" lengthAdjust="spacingAndGlyphs">kotel-kv.kz</text>
<text transform="translate(500.9,8.8) rotate(-20.8)" textLength="25" lengthAdjust="spacingAndGlyphs">kotel-kv.kz</text>
<text transform="translate(515.6,25.0) rotate(-20.8)" textLength="25" lengthAdjust="spacingAndGlyphs">kotel-kv.kz</text>
<text transform="translate(530.3,41.2) rotate(-20.8)" textLength="25" lengthAdjust="spacingAndGlyphs">kotel-kv.kz</text>
<text transform="translate(545.0,57.4) rotate(-20.8)" textLength="25" lengthAdjust="spacingAndGlyphs">kotel-kv.kz</text>
<text transform="translate(559.7,73.6) rotate(-20.8)" textLength="25" lengthAdjust="spacingAndGlyphs">kotel-kv.kz</text>
<text transform="translate(574.4,89.8) rotate(-20.8)" textLength="25" lengthAdjust="spacingAndGlyphs">kotel-kv.kz</text>
<text transform="translate(589.1,106.0) rotate(-20.8)" textLength="25" lengthAdjust="spacingAndGlyphs">kotel-kv.kz</text>
<text transform="translate(603.8,122.2) rotate(-20.8)" textLength="25" lengthAdjust="spacingAndGlyphs">kotel-kv.kz</text>
<text transform="translate(618.5,138.4) rotate(-20.8)" textLength="25" lengthAdjust="spacingAndGlyphs">kotel-kv.kz</text>
<text transform="translate(633.2,154.6) rotate(-20.8)" textLength="25" lengthAdjust="spacingAndGlyphs">kotel-kv.kz</text>
<text transform="translate(647.9,170.8) rotate(-20.8)" textLength="25" lengthAdjust="spacingAndGlyphs">kotel-kv.kz</text>
<text transform="translate(662.6,187.0) rotate(-20.8)" textLength="25" lengthAdjust="spacingAndGlyphs">kotel-kv.kz</text>
<text transform="translate(544.3,2.8) rotate(-20.8)" textLength="25" lengthAdjust="spacingAndGlyphs">kotel-kv.kz</text>
<text transform="translate(559.0,19.0) rotate(-20.8)" textLength="25" lengthAdjust="spacingAndGlyphs">kotel-kv.kz</text>
<text transform="translate(573.7,35.2) rotate(-20.8)" textLength="25" lengthAdjust="spacingAndGlyphs">kotel-kv.kz</text>
<text transform="translate(588.4,51.4) rotate(-20.8)" textLength="25" lengthAdjust="spacingAndGlyphs">kotel-kv.kz</text>
<text transform="translate(603.1,67.6) rotate(-20.8)" textLength="25" lengthAdjust="spacingAndGlyphs">kotel-kv.kz</text>
<text transform="translate(617.8,83.8) rotate(-20.8)" textLength="25" lengthAdjust="spacingAndGlyphs">kotel-kv.kz</text>
<text transform="translate(632.5,100.0) rotate(-20.8)" textLength="25" lengthAdjust="spacingAndGlyphs">kotel-kv.kz</text>
<text transform="translate(647.2,116.2) rotate(-20.8)" textLength="25" lengthAdjust="spacingAndGlyphs">kotel-kv.kz</text>
<text transform="translate(661.9,132.4) rotate(-20.8)" textLength="25" lengthAdjust="spacingAndGlyphs">kotel-kv.kz</text>
<text transform="translate(587.7,-3.2) rotate(-20.8)" textLength="25" lengthAdjust="spacingAndGlyphs">kotel-kv.kz</text>
<text transform="translate(602.4,13.0) rotate(-20.8)" textLength="25" lengthAdjust="spacingAndGlyphs">kotel-kv.kz</text>
<text transform="translate(617.1,29.2) rotate(-20.8)" textLength="25" lengthAdjust="spacingAndGlyphs">kotel-kv.kz</text>
<text transform="translate(631.8,45.4) rotate(-20.8)" textLength="25" lengthAdjust="spacingAndGlyphs">kotel-kv.kz</text>
<text transform="translate(646.5,61.6) rotate(-20.8)" textLength="25" lengthAdjust="spacingAndGlyphs">kotel-kv.kz</text>
<text transform="translate(661.2,77.8) rotate(-20.8)" textLength="25" lengthAdjust="spacingAndGlyphs">kotel-kv.kz</text>
<text transform="translate(631.1,-9.2) rotate(-20.8)" textLength="25" lengthAdjust="spacingAndGlyphs">kotel-kv.kz</text>
<text transform="translate(645.8,7.0) rotate(-20.8)" textLength="25" lengthAdjust="spacingAndGlyphs">kotel-kv.kz</text>
<text transform="translate(660.5,23.2) rotate(-20.8)" textLength="25" lengthAdjust="spacingAndGlyphs">kotel-kv.kz</text>
</g>
<rect x="22.60" y="0.60" width="598.70" height="427.20" fill="none" stroke="#b0b0b0" stroke-width="0.6"/>
<rect x="51.30" y="5.50" width="564.30" height="417.80" fill="none" stroke="#646464" stroke-width="1.4"/>
<line x1="36.30" y1="5.50" x2="51.30" y2="5.50" stroke="#787878" stroke-width="1.0"/>
<line x1="36.30" y1="5.50" x2="36.30" y2="176.30" stroke="#787878" stroke-width="1.0"/>
<line x1="36.30" y1="176.30" x2="51.30" y2="176.30" stroke="#787878" stroke-width="1.0"/>
<line x1="43.75" y1="5.50" x2="43.75" y2="176.30" stroke="#787878" stroke-width="0.9"/>
<line x1="36.30" y1="215.20" x2="36.30" y2="423.30" stroke="#787878" stroke-width="1.0"/>
<line x1="43.75" y1="215.20" x2="43.75" y2="423.30" stroke="#787878" stroke-width="0.9"/>
<line x1="36.30" y1="215.20" x2="51.30" y2="215.20" stroke="#787878" stroke-width="1.0"/>
<line x1="36.30" y1="265.90" x2="51.30" y2="265.90" stroke="#787878" stroke-width="1.0"/>
<line x1="36.30" y1="302.20" x2="51.30" y2="302.20" stroke="#787878" stroke-width="1.0"/>
<line x1="36.30" y1="337.90" x2="51.30" y2="337.90" stroke="#787878" stroke-width="1.0"/>
<line x1="36.30" y1="387.30" x2="51.30" y2="387.30" stroke="#787878" stroke-width="1.0"/>
<line x1="36.30" y1="423.30" x2="51.30" y2="423.30" stroke="#787878" stroke-width="1.0"/>
<text font-size="6.54" text-anchor="middle" font-style="italic" textLength="53.91" lengthAdjust="spacing" fill="#333" transform="translate(42.30,240.55) rotate(-90) scale(0.627,1)">Подп.&#160;&#160;и&#160;&#160;дата</text>
<text font-size="6.54" text-anchor="middle" font-style="italic" textLength="51.63" lengthAdjust="spacing" fill="#333" transform="translate(42.30,284.05) rotate(-90) scale(0.577,1)">Инв.&#160;&#160;N&#160;&#160;дубл.</text>
<text font-size="6.54" text-anchor="middle" font-style="italic" textLength="51.25" lengthAdjust="spacing" fill="#333" transform="translate(42.30,320.05) rotate(-90) scale(0.615,1)">Взам.&#160;&#160;инв.&#160;&#160;N</text>
<text font-size="6.54" text-anchor="middle" font-style="italic" textLength="53.91" lengthAdjust="spacing" fill="#333" transform="translate(42.30,362.60) rotate(-90) scale(0.627,1)">Подп.&#160;&#160;и&#160;&#160;дата</text>
<text font-size="6.54" text-anchor="middle" font-style="italic" textLength="52.08" lengthAdjust="spacing" fill="#333" transform="translate(42.30,405.30) rotate(-90) scale(0.572,1)">Инв.&#160;&#160;N&#160;&#160;подл.</text>
<text font-size="6.54" text-anchor="middle" font-style="italic" textLength="54.17" lengthAdjust="spacing" fill="#333" transform="translate(42.30,47.80) rotate(-90) scale(0.659,1)">Перв.&#160;&#160;примен.</text>
<text font-size="6.54" text-anchor="middle" font-style="italic" textLength="34.96" lengthAdjust="spacing" fill="#333" transform="translate(42.30,139.00) rotate(-90) scale(0.624,1)">Справ.&#160;&#160;N</text>
<line x1="150.50" y1="5.50" x2="150.50" y2="25.40" stroke="#5a5a5a" stroke-width="1.0"/>
<line x1="51.30" y1="25.40" x2="150.50" y2="25.40" stroke="#5a5a5a" stroke-width="1.0"/>
<text font-size="9.88" text-anchor="start" font-style="italic" textLength="131.40" lengthAdjust="spacing" fill="#1c1c1c" stroke="#1c1c1c" stroke-width="0.2" transform="translate(149.00,12.20) rotate(180) scale(0.729,1)">КВТУ.070.201.04.000&#160;&#160;&#160;Ф</text>
<line x1="351.70" y1="351.95" x2="444.50" y2="351.95" stroke="#a2a2a2" stroke-width="0.7"/>
<line x1="351.70" y1="359.09" x2="444.50" y2="359.09" stroke="#a2a2a2" stroke-width="0.7"/>
<line x1="351.70" y1="366.24" x2="444.50" y2="366.24" stroke="#a2a2a2" stroke-width="0.7"/>
<line x1="351.70" y1="387.68" x2="444.50" y2="387.68" stroke="#a2a2a2" stroke-width="0.7"/>
<line x1="351.70" y1="394.83" x2="444.50" y2="394.83" stroke="#a2a2a2" stroke-width="0.7"/>
<line x1="351.70" y1="401.98" x2="444.50" y2="401.98" stroke="#a2a2a2" stroke-width="0.7"/>
<line x1="351.70" y1="409.12" x2="444.50" y2="409.12" stroke="#a2a2a2" stroke-width="0.7"/>
<line x1="351.70" y1="416.27" x2="444.50" y2="416.27" stroke="#a2a2a2" stroke-width="0.7"/>
<line x1="351.70" y1="373.39" x2="444.50" y2="373.39" stroke="#565656" stroke-width="1.0"/>
<line x1="351.70" y1="380.54" x2="444.50" y2="380.54" stroke="#565656" stroke-width="1.0"/>
<line x1="351.70" y1="344.80" x2="615.60" y2="344.80" stroke="#565656" stroke-width="1.1"/>
<line x1="351.70" y1="344.80" x2="351.70" y2="423.30" stroke="#565656" stroke-width="1.1"/>
<line x1="361.90" y1="344.80" x2="361.90" y2="380.54" stroke="#565656" stroke-width="1.0"/>
<line x1="376.60" y1="344.80" x2="376.60" y2="423.30" stroke="#565656" stroke-width="1.0"/>
<line x1="409.30" y1="344.80" x2="409.30" y2="423.30" stroke="#565656" stroke-width="1.0"/>
<line x1="430.80" y1="344.80" x2="430.80" y2="423.30" stroke="#565656" stroke-width="1.0"/>
<line x1="444.50" y1="344.80" x2="444.50" y2="423.30" stroke="#565656" stroke-width="1.0"/>
<line x1="544.70" y1="366.24" x2="544.70" y2="423.30" stroke="#565656" stroke-width="1.0"/>
<line x1="444.50" y1="366.24" x2="615.60" y2="366.24" stroke="#565656" stroke-width="1.0"/>
<line x1="444.50" y1="401.98" x2="615.60" y2="401.98" stroke="#565656" stroke-width="1.0"/>
<line x1="544.70" y1="373.39" x2="615.60" y2="373.39" stroke="#565656" stroke-width="0.9"/>
<line x1="544.70" y1="394.83" x2="615.60" y2="394.83" stroke="#565656" stroke-width="0.9"/>
<line x1="551.60" y1="373.39" x2="551.60" y2="394.83" stroke="#a2a2a2" stroke-width="0.7"/>
<line x1="558.70" y1="373.39" x2="558.70" y2="394.83" stroke="#a2a2a2" stroke-width="0.7"/>
<line x1="566.00" y1="366.24" x2="566.00" y2="394.83" stroke="#565656" stroke-width="1.0"/>
<line x1="590.30" y1="366.24" x2="590.30" y2="394.83" stroke="#565656" stroke-width="1.0"/>
<line x1="573.30" y1="394.83" x2="573.30" y2="401.98" stroke="#565656" stroke-width="0.9"/>
<text font-size="6.54" text-anchor="middle" font-style="italic" textLength="13.41" lengthAdjust="spacing" fill="#1c1c1c" transform="translate(357.00,379.34) scale(0.701,1)">Изм</text>
<text font-size="6.54" text-anchor="middle" font-style="italic" textLength="18.98" lengthAdjust="spacing" fill="#1c1c1c" transform="translate(369.25,379.34) scale(0.632,1)">Лист</text>
<text font-size="6.54" text-anchor="middle" font-style="italic" textLength="30.87" lengthAdjust="spacing" fill="#1c1c1c" transform="translate(392.95,379.34) scale(0.713,1)">N докум.</text>
<text font-size="6.54" text-anchor="middle" font-style="italic" textLength="19.98" lengthAdjust="spacing" fill="#1c1c1c" transform="translate(420.05,379.34) scale(0.701,1)">Подп.</text>
<text font-size="6.54" text-anchor="middle" font-style="italic" textLength="19.33" lengthAdjust="spacing" fill="#1c1c1c" transform="translate(437.65,379.34) scale(0.652,1)">Дата</text>
<text font-size="6.69" text-anchor="start" font-style="italic" textLength="28.02" lengthAdjust="spacing" fill="#1c1c1c" transform="translate(354.00,386.48) scale(0.721,1)">Разраб.</text>
<text font-size="6.69" text-anchor="start" font-style="italic" textLength="20.56" lengthAdjust="spacing" fill="#1c1c1c" transform="translate(354.00,393.63) scale(0.627,1)">Пров.</text>
<text font-size="6.69" text-anchor="start" font-style="italic" textLength="31.89" lengthAdjust="spacing" fill="#1c1c1c" transform="translate(354.00,400.78) scale(0.655,1)">Т.контр.</text>
<text font-size="6.69" text-anchor="start" font-style="italic" textLength="33.47" lengthAdjust="spacing" fill="#1c1c1c" transform="translate(354.00,415.07) scale(0.624,1)">Н.контр.</text>
<text font-size="6.69" text-anchor="start" font-style="italic" textLength="17.39" lengthAdjust="spacing" fill="#1c1c1c" transform="translate(354.00,422.10) scale(0.627,1)">Утв.</text>
<text font-size="14.39" text-anchor="start" font-style="italic" textLength="189.38" lengthAdjust="spacing" fill="#1c1c1c" stroke="#1c1c1c" stroke-width="0.2" transform="translate(456.00,361.00) scale(0.779,1)">КВТУ.070.201.04.000&#160;&#160;&#160;Ф</text>
<text font-size="10.47" text-anchor="middle" font-style="italic" textLength="68.05" lengthAdjust="spacing" fill="#1c1c1c" stroke="#1c1c1c" stroke-width="0.2" transform="translate(494.20,374.70) scale(0.766,1)">Задание&#160;&#160;на</text>
<text font-size="10.47" text-anchor="middle" font-style="italic" textLength="59.12" lengthAdjust="spacing" fill="#1c1c1c" stroke="#1c1c1c" stroke-width="0.2" transform="translate(494.60,387.00) scale(0.820,1)">установку</text>
<text font-size="10.47" text-anchor="middle" font-style="italic" textLength="72.65" lengthAdjust="spacing" fill="#1c1c1c" stroke="#1c1c1c" stroke-width="0.2" transform="translate(494.70,398.60) scale(0.775,1)">фундамента</text>
<text font-size="6.83" text-anchor="middle" font-style="italic" textLength="78.35" lengthAdjust="spacing" fill="#1c1c1c" stroke="#1c1c1c" stroke-width="0.05" transform="translate(495.50,411.90) scale(0.697,1)">Котел&#160;&#160;водогрейный</text>
<text font-size="6.83" text-anchor="middle" font-style="italic" textLength="55.39" lengthAdjust="spacing" fill="#1c1c1c" stroke="#1c1c1c" stroke-width="0.05" transform="translate(496.30,420.20) scale(0.771,1)">КВр&#160;-0,8&#160;&#160;К&#160;&#160;(К)</text>
<text font-size="6.83" text-anchor="middle" font-style="italic" textLength="18.55" lengthAdjust="spacing" fill="#1c1c1c" transform="translate(554.90,372.49) scale(0.550,1)">Лит.</text>
<text font-size="6.83" text-anchor="middle" font-style="italic" textLength="22.93" lengthAdjust="spacing" fill="#1c1c1c" transform="translate(578.00,372.49) scale(0.689,1)">Масса</text>
<text font-size="6.83" text-anchor="middle" font-style="italic" textLength="36.08" lengthAdjust="spacing" fill="#1c1c1c" transform="translate(603.10,372.49) scale(0.676,1)">Масштаб</text>
<text font-size="8.28" text-anchor="start" textLength="5.95" lengthAdjust="spacing" fill="#1c1c1c" stroke="#1c1c1c" stroke-width="0.25" transform="translate(546.10,387.10) scale(0.705,1)">И</text>
<line x1="575.90" y1="382.60" x2="580.00" y2="382.60" stroke="#1c1c1c" stroke-width="0.8"/>
<text font-size="8.28" text-anchor="middle" textLength="18.86" lengthAdjust="spacing" fill="#1c1c1c" stroke="#1c1c1c" stroke-width="0.05" transform="translate(603.40,387.20) scale(0.626,1)">1:20</text>
<text font-size="6.69" text-anchor="middle" font-style="italic" textLength="19.54" lengthAdjust="spacing" fill="#1c1c1c" transform="translate(554.60,400.68) scale(0.594,1)">Лист</text>
<text font-size="6.69" text-anchor="middle" font-style="italic" textLength="27.74" lengthAdjust="spacing" fill="#1c1c1c" transform="translate(584.70,400.68) scale(0.678,1)">Листов</text>
<text font-size="6.69" text-anchor="middle" fill="#1c1c1c" transform="translate(605.80,400.68) scale(0.800,1)">1</text>
<g fill="#121212">
<rect x="546.1" y="405.70" width="10.6" height="2.6" rx="1.3"/>
<rect x="546.1" y="408.85" width="10.6" height="2.6" rx="1.3"/>
<rect x="546.1" y="412.00" width="10.6" height="2.6" rx="1.3"/>
<rect x="546.1" y="415.15" width="10.6" height="2.6" rx="1.3"/>
</g>
<g stroke="#d8d8d8" stroke-width="0.35" fill="none">
<line x1="548.2" y1="407.60" x2="554.6" y2="406.40"/>
<line x1="548.2" y1="410.75" x2="554.6" y2="409.55"/>
<line x1="548.2" y1="413.90" x2="554.6" y2="412.70"/>
<line x1="548.2" y1="417.05" x2="554.6" y2="415.85"/>
</g>
<g fill="none" stroke="#101010" stroke-width="2.0" stroke-linejoin="miter" stroke-miterlimit="6">
<path d="M560.6 405.5 V418.0 M565.0 405.5 L561.5 412.6 M562.6 410.6 L565.2 418.0"/>
<path d="M565.3 405.4 H567.5 L568.6 413.8 L569.7 405.4 H571.9 L569.8 418.0 H567.4 Z" fill="#101010" stroke="none"/>
<path d="M572.3 406.5 H576.5 L572.9 417.0 H577.0"/>
<path d="M578.7 405.5 V418.0 M578.7 406.5 H580.9 Q583.3 406.5 583.3 409.4 Q583.3 412.3 580.9 412.3 H578.7 M581.0 412.3 L583.4 418.0"/>
</g>
<text font-size="5.67" text-anchor="start" textLength="30.00" lengthAdjust="spacing" fill="#6c6c6c" transform="translate(587.40,411.20) scale(0.900,1)">КОТЕЛЬНЫЙ</text>
<text font-size="5.67" text-anchor="start" textLength="28.44" lengthAdjust="spacing" fill="#6c6c6c" transform="translate(587.60,417.50) scale(0.900,1)">ЗАВОД РЭП</text>
<text font-size="5.96" text-anchor="middle" font-style="italic" textLength="36.67" lengthAdjust="spacing" fill="#1c1c1c" transform="translate(580.50,427.80) scale(0.807,1)">Формат А3</text>
<rect x="119.20" y="307.70" width="180.70" height="44.60" fill="none" stroke="#505050" stroke-width="0.9"/>
<line x1="119.20" y1="329.70" x2="299.90" y2="329.70" stroke="#505050" stroke-width="0.9"/>
<line x1="179.40" y1="307.70" x2="179.40" y2="352.30" stroke="#505050" stroke-width="0.9"/>
<line x1="239.40" y1="307.70" x2="239.40" y2="352.30" stroke="#505050" stroke-width="0.9"/>
<text font-size="13.08" text-anchor="start" font-style="italic" fill="#1c1c1c" stroke="#1c1c1c" stroke-width="0.2" transform="translate(143.80,323.60) scale(0.840,1)">P</text>
<text font-size="6.98" text-anchor="start" font-style="italic" fill="#1c1c1c" stroke="#1c1c1c" stroke-width="0.12" transform="translate(153.10,325.40) scale(0.800,1)">1</text>
<text font-size="13.08" text-anchor="start" font-style="italic" fill="#1c1c1c" stroke="#1c1c1c" stroke-width="0.2" transform="translate(203.90,323.60) scale(0.840,1)">P</text>
<text font-size="6.98" text-anchor="start" font-style="italic" fill="#1c1c1c" stroke="#1c1c1c" stroke-width="0.12" transform="translate(213.20,325.40) scale(0.800,1)">2</text>
<text font-size="13.08" text-anchor="start" font-style="italic" fill="#1c1c1c" stroke="#1c1c1c" stroke-width="0.2" transform="translate(264.15,323.60) scale(0.840,1)">P</text>
<text font-size="6.98" text-anchor="start" font-style="italic" fill="#1c1c1c" stroke="#1c1c1c" stroke-width="0.12" transform="translate(273.45,325.40) scale(0.800,1)">3</text>
<text font-size="13.37" text-anchor="start" font-style="italic" textLength="49.85" lengthAdjust="spacing" fill="#1c1c1c" stroke="#1c1c1c" stroke-width="0.3" transform="translate(130.60,346.00) scale(0.766,1)">360&#160;&#160;кг</text>
<text font-size="13.37" text-anchor="start" font-style="italic" textLength="59.29" lengthAdjust="spacing" fill="#1c1c1c" stroke="#1c1c1c" stroke-width="0.3" transform="translate(189.30,346.00) scale(0.700,1)">1000&#160;&#160;кг</text>
<text font-size="13.37" text-anchor="start" font-style="italic" textLength="49.56" lengthAdjust="spacing" fill="#1c1c1c" stroke="#1c1c1c" stroke-width="0.3" transform="translate(250.00,346.00) scale(0.799,1)">460&#160;&#160;кг</text>
<line x1="130.50" y1="61.50" x2="130.50" y2="128.00" stroke="#b0b0b0" stroke-width="0.7"/>
<line x1="323.80" y1="61.50" x2="323.80" y2="128.00" stroke="#b0b0b0" stroke-width="0.7"/>
<line x1="227.50" y1="79.80" x2="227.50" y2="128.00" stroke="#b0b0b0" stroke-width="0.7"/>
<line x1="130.50" y1="63.40" x2="323.80" y2="63.40" stroke="#9c9c9c" stroke-width="0.7"/>
<polygon points="130.50,63.40 135.40,62.45 135.40,64.35" fill="#2e2e2e"/>
<polygon points="323.80,63.40 318.90,64.35 318.90,62.45" fill="#2e2e2e"/>
<line x1="130.50" y1="81.60" x2="227.50" y2="81.60" stroke="#9c9c9c" stroke-width="0.7"/>
<polygon points="130.50,81.60 135.40,80.65 135.40,82.55" fill="#2e2e2e"/>
<polygon points="227.50,81.60 222.60,82.55 222.60,80.65" fill="#2e2e2e"/>
<text font-size="7.56" text-anchor="start" font-style="italic" textLength="28.54" lengthAdjust="spacing" fill="#1c1c1c" stroke="#1c1c1c" stroke-width="0.16" transform="translate(216.20,61.30) scale(0.771,1)">2250±3</text>
<text font-size="7.56" text-anchor="start" font-style="italic" textLength="28.32" lengthAdjust="spacing" fill="#1c1c1c" stroke="#1c1c1c" stroke-width="0.16" transform="translate(169.10,79.50) scale(0.699,1)">1125±3</text>
<line x1="130.50" y1="128.00" x2="130.50" y2="214.00" stroke="#dadada" stroke-width="0.6" stroke-dasharray="14 2 1.5 2"/>
<line x1="227.50" y1="128.00" x2="227.50" y2="214.00" stroke="#dadada" stroke-width="0.6" stroke-dasharray="14 2 1.5 2"/>
<line x1="323.80" y1="128.00" x2="323.80" y2="214.00" stroke="#dadada" stroke-width="0.6" stroke-dasharray="14 2 1.5 2"/>
<line x1="90.00" y1="129.40" x2="337.00" y2="129.40" stroke="#dadada" stroke-width="0.6" stroke-dasharray="30 2 1.5 2"/>
<line x1="90.00" y1="200.90" x2="337.00" y2="200.90" stroke="#dadada" stroke-width="0.6" stroke-dasharray="30 2 1.5 2"/>
<line x1="90.00" y1="129.40" x2="130.50" y2="129.40" stroke="#b0b0b0" stroke-width="0.6"/>
<line x1="90.00" y1="200.90" x2="130.50" y2="200.90" stroke="#b0b0b0" stroke-width="0.6"/>
<line x1="132.00" y1="165.00" x2="340.00" y2="165.00" stroke="#dadada" stroke-width="0.6" stroke-dasharray="26 2 1.5 2"/>
<line x1="92.00" y1="129.40" x2="92.00" y2="200.90" stroke="#9c9c9c" stroke-width="0.7"/>
<polygon points="92.00,129.40 92.95,134.30 91.05,134.30" fill="#2e2e2e"/>
<polygon points="92.00,200.90 91.05,196.00 92.95,196.00" fill="#2e2e2e"/>
<text font-size="7.85" text-anchor="middle" font-style="italic" textLength="24.74" lengthAdjust="spacing" fill="#1c1c1c" transform="translate(89.70,165.30) rotate(-90) scale(0.728,1)">960±3</text>
<rect x="123.80" y="122.80" width="1.40" height="1.40" fill="#3a3a3a"/>
<rect x="123.80" y="134.60" width="1.40" height="1.40" fill="#3a3a3a"/>
<rect x="135.80" y="122.80" width="1.40" height="1.40" fill="#3a3a3a"/>
<rect x="135.80" y="134.60" width="1.40" height="1.40" fill="#3a3a3a"/>
<rect x="123.80" y="194.30" width="1.40" height="1.40" fill="#3a3a3a"/>
<rect x="123.80" y="206.10" width="1.40" height="1.40" fill="#3a3a3a"/>
<rect x="135.80" y="194.30" width="1.40" height="1.40" fill="#3a3a3a"/>
<rect x="135.80" y="206.10" width="1.40" height="1.40" fill="#3a3a3a"/>
<rect x="220.80" y="122.80" width="1.40" height="1.40" fill="#3a3a3a"/>
<rect x="220.80" y="134.60" width="1.40" height="1.40" fill="#3a3a3a"/>
<rect x="232.80" y="122.80" width="1.40" height="1.40" fill="#3a3a3a"/>
<rect x="232.80" y="134.60" width="1.40" height="1.40" fill="#3a3a3a"/>
<rect x="220.80" y="194.30" width="1.40" height="1.40" fill="#3a3a3a"/>
<rect x="220.80" y="206.10" width="1.40" height="1.40" fill="#3a3a3a"/>
<rect x="232.80" y="194.30" width="1.40" height="1.40" fill="#3a3a3a"/>
<rect x="232.80" y="206.10" width="1.40" height="1.40" fill="#3a3a3a"/>
<rect x="317.10" y="122.80" width="1.40" height="1.40" fill="#3a3a3a"/>
<rect x="317.10" y="134.60" width="1.40" height="1.40" fill="#3a3a3a"/>
<rect x="329.10" y="122.80" width="1.40" height="1.40" fill="#3a3a3a"/>
<rect x="329.10" y="134.60" width="1.40" height="1.40" fill="#3a3a3a"/>
<rect x="317.10" y="194.30" width="1.40" height="1.40" fill="#3a3a3a"/>
<rect x="317.10" y="206.10" width="1.40" height="1.40" fill="#3a3a3a"/>
<rect x="329.10" y="194.30" width="1.40" height="1.40" fill="#3a3a3a"/>
<rect x="329.10" y="206.10" width="1.40" height="1.40" fill="#3a3a3a"/>
<rect x="129.60" y="128.50" width="1.80" height="1.80" fill="#3a3a3a"/>
<rect x="226.60" y="128.50" width="1.80" height="1.80" fill="#3a3a3a"/>
<rect x="322.90" y="128.50" width="1.80" height="1.80" fill="#3a3a3a"/>
<text font-size="13.08" text-anchor="start" font-style="italic" fill="#1c1c1c" stroke="#1c1c1c" stroke-width="0.2" transform="translate(111.30,104.50) scale(0.840,1)">P</text>
<text font-size="6.98" text-anchor="start" font-style="italic" fill="#1c1c1c" stroke="#1c1c1c" stroke-width="0.12" transform="translate(120.60,106.30) scale(0.800,1)">1</text>
<line x1="111.00" y1="107.10" x2="122.30" y2="107.10" stroke="#a8a8a8" stroke-width="0.6"/>
<line x1="122.30" y1="107.10" x2="130.00" y2="129.40" stroke="#a8a8a8" stroke-width="0.6"/>
<text font-size="13.08" text-anchor="start" font-style="italic" fill="#1c1c1c" stroke="#1c1c1c" stroke-width="0.2" transform="translate(234.00,103.80) scale(0.840,1)">P</text>
<text font-size="6.98" text-anchor="start" font-style="italic" fill="#1c1c1c" stroke="#1c1c1c" stroke-width="0.12" transform="translate(243.30,105.60) scale(0.800,1)">2</text>
<line x1="235.70" y1="106.80" x2="245.60" y2="106.80" stroke="#a8a8a8" stroke-width="0.6"/>
<line x1="235.70" y1="106.80" x2="227.50" y2="129.40" stroke="#a8a8a8" stroke-width="0.6"/>
<text font-size="13.08" text-anchor="start" font-style="italic" fill="#1c1c1c" stroke="#1c1c1c" stroke-width="0.2" transform="translate(330.70,103.50) scale(0.840,1)">P</text>
<text font-size="6.98" text-anchor="start" font-style="italic" fill="#1c1c1c" stroke="#1c1c1c" stroke-width="0.12" transform="translate(340.00,105.30) scale(0.800,1)">3</text>
<line x1="332.00" y1="106.75" x2="342.80" y2="106.75" stroke="#a8a8a8" stroke-width="0.6"/>
<line x1="332.00" y1="106.75" x2="323.80" y2="129.40" stroke="#a8a8a8" stroke-width="0.6"/>
<text font-size="10.47" text-anchor="start" font-style="italic" textLength="144.18" lengthAdjust="spacing" fill="#1c1c1c" stroke="#1c1c1c" stroke-width="0.2" transform="translate(141.00,160.00) scale(0.564,1)">Ось&#160;&#160;симметрии&#160;&#160;котла</text>
<rect x="186.30" y="169.30" width="24.50" height="12.30" fill="none" stroke="#a8a8a8" stroke-width="0.6"/>
<text font-size="10.76" text-anchor="start" font-style="italic" textLength="31.76" lengthAdjust="spacing" fill="#1c1c1c" stroke="#1c1c1c" stroke-width="0.2" transform="translate(188.70,179.70) scale(0.611,1)">0,000</text>
<line x1="305.80" y1="181.50" x2="364.20" y2="181.50" stroke="#9c9c9c" stroke-width="0.7"/>
<polygon points="317.80,181.50 312.90,182.45 312.90,180.55" fill="#2e2e2e"/>
<polygon points="329.80,181.50 334.70,180.55 334.70,182.45" fill="#2e2e2e"/>
<line x1="317.80" y1="179.50" x2="317.80" y2="194.00" stroke="#b0b0b0" stroke-width="0.6"/>
<line x1="329.80" y1="179.50" x2="329.80" y2="194.00" stroke="#b0b0b0" stroke-width="0.6"/>
<text font-size="7.56" text-anchor="start" font-style="italic" textLength="23.89" lengthAdjust="spacing" fill="#1c1c1c" transform="translate(345.60,179.70) scale(0.712,1)">160±3</text>
<line x1="329.80" y1="195.20" x2="374.20" y2="195.20" stroke="#b0b0b0" stroke-width="0.6"/>
<line x1="329.80" y1="206.80" x2="374.20" y2="206.80" stroke="#b0b0b0" stroke-width="0.6"/>
<line x1="372.50" y1="184.70" x2="372.50" y2="240.00" stroke="#9c9c9c" stroke-width="0.7"/>
<polygon points="372.50,195.20 371.55,190.30 373.45,190.30" fill="#2e2e2e"/>
<polygon points="372.50,206.80 373.45,211.70 371.55,211.70" fill="#2e2e2e"/>
<text font-size="7.56" text-anchor="middle" font-style="italic" textLength="23.89" lengthAdjust="spacing" fill="#1c1c1c" transform="translate(370.20,228.50) rotate(-90) scale(0.712,1)">160±3</text>
<line x1="301.20" y1="201.00" x2="313.90" y2="201.00" stroke="#3c3c3c" stroke-width="1.2"/>
<line x1="333.20" y1="201.00" x2="345.90" y2="201.00" stroke="#3c3c3c" stroke-width="1.2"/>
<line x1="304.30" y1="201.50" x2="304.30" y2="218.20" stroke="#9a9a9a" stroke-width="0.7"/>
<line x1="343.00" y1="201.50" x2="343.00" y2="218.20" stroke="#9a9a9a" stroke-width="0.7"/>
<polygon points="304.30,201.40 305.35,209.60 303.25,209.60" fill="#2a2a2a"/>
<polygon points="343.00,201.40 344.05,209.60 341.95,209.60" fill="#2a2a2a"/>
<text font-size="10.47" text-anchor="start" font-style="italic" fill="#1c1c1c" stroke="#1c1c1c" stroke-width="0.2" transform="translate(295.60,218.70) scale(0.800,1)">A</text>
<text font-size="10.47" text-anchor="start" font-style="italic" fill="#1c1c1c" stroke="#1c1c1c" stroke-width="0.2" transform="translate(349.60,218.60) scale(0.800,1)">A</text>
<text font-size="12.06" text-anchor="start" font-style="italic" textLength="63.66" lengthAdjust="spacing" fill="#1c1c1c" stroke="#1c1c1c" stroke-width="0.2" transform="translate(470.80,70.80) scale(0.620,1)">А-А&#160;&#160;(1:5)</text>
<defs><clipPath id="cc"><path d="M447.4 111.2 L522.6 111.2 C 521 118, 523.5 124, 521.5 128 S 521 133, 519.5 134.3 C 505 136.2, 492 133.0, 484 134.6 S 462 133.2, 452.5 134.3 C 450.5 130, 449.5 126, 450.5 121 S 447 114, 447.4 111.2 Z"/></clipPath></defs>
<g clip-path="url(#cc)" stroke="#8c8c8c" stroke-width="0.7">
<line x1="391.10" y1="137.30" x2="420.20" y2="108.20"/>
<line x1="397.70" y1="137.30" x2="426.80" y2="108.20"/>
<line x1="404.30" y1="137.30" x2="433.40" y2="108.20"/>
<line x1="410.90" y1="137.30" x2="440.00" y2="108.20"/>
<line x1="417.50" y1="137.30" x2="446.60" y2="108.20"/>
<line x1="424.10" y1="137.30" x2="453.20" y2="108.20"/>
<line x1="430.70" y1="137.30" x2="459.80" y2="108.20"/>
<line x1="437.30" y1="137.30" x2="466.40" y2="108.20"/>
<line x1="443.90" y1="137.30" x2="473.00" y2="108.20"/>
<line x1="450.50" y1="137.30" x2="479.60" y2="108.20"/>
<line x1="457.10" y1="137.30" x2="486.20" y2="108.20"/>
<line x1="463.70" y1="137.30" x2="492.80" y2="108.20"/>
<line x1="470.30" y1="137.30" x2="499.40" y2="108.20"/>
<line x1="476.90" y1="137.30" x2="506.00" y2="108.20"/>
<line x1="483.50" y1="137.30" x2="512.60" y2="108.20"/>
<line x1="490.10" y1="137.30" x2="519.20" y2="108.20"/>
<line x1="496.70" y1="137.30" x2="525.80" y2="108.20"/>
<line x1="503.30" y1="137.30" x2="532.40" y2="108.20"/>
<line x1="509.90" y1="137.30" x2="539.00" y2="108.20"/>
<line x1="516.50" y1="137.30" x2="545.60" y2="108.20"/>
<line x1="523.10" y1="137.30" x2="552.20" y2="108.20"/>
</g>
<path d="M447.4 111.2 L522.6 111.2 C 521 118, 523.5 124, 521.5 128 S 521 133, 519.5 134.3 C 505 136.2, 492 133.0, 484 134.6 S 462 133.2, 452.5 134.3 C 450.5 130, 449.5 126, 450.5 121 S 447 114, 447.4 111.2" fill="none" stroke="#707070" stroke-width="0.9"/>
<line x1="460.95" y1="92.00" x2="460.95" y2="96.50" stroke="#a2a2a2" stroke-width="0.55"/>
<line x1="460.95" y1="134.80" x2="460.95" y2="158.50" stroke="#b0b0b0" stroke-width="0.6"/>
<path d="M458.70 134.30 V97.30 Q458.70 96.50 459.50 96.50 H462.40 Q463.20 96.50 463.20 97.30 V134.30" fill="#fff" stroke="#585858" stroke-width="0.9"/>
<line x1="459.80" y1="97.50" x2="459.80" y2="108.20" stroke="#a8a8a8" stroke-width="0.45"/>
<line x1="462.10" y1="97.50" x2="462.10" y2="108.20" stroke="#a8a8a8" stroke-width="0.45"/>
<line x1="458.70" y1="108.20" x2="463.20" y2="108.20" stroke="#8a8a8a" stroke-width="0.6"/>
<line x1="458.70" y1="134.30" x2="463.20" y2="134.30" stroke="#707070" stroke-width="0.7"/>
<line x1="458.70" y1="97.40" x2="463.20" y2="97.40" stroke="#8a8a8a" stroke-width="0.5"/>
<line x1="509.45" y1="92.00" x2="509.45" y2="96.50" stroke="#a2a2a2" stroke-width="0.55"/>
<line x1="509.45" y1="134.80" x2="509.45" y2="158.50" stroke="#b0b0b0" stroke-width="0.6"/>
<path d="M507.20 134.30 V97.30 Q507.20 96.50 508.00 96.50 H510.90 Q511.70 96.50 511.70 97.30 V134.30" fill="#fff" stroke="#585858" stroke-width="0.9"/>
<line x1="508.30" y1="97.50" x2="508.30" y2="108.20" stroke="#a8a8a8" stroke-width="0.45"/>
<line x1="510.60" y1="97.50" x2="510.60" y2="108.20" stroke="#a8a8a8" stroke-width="0.45"/>
<line x1="507.20" y1="108.20" x2="511.70" y2="108.20" stroke="#8a8a8a" stroke-width="0.6"/>
<line x1="507.20" y1="134.30" x2="511.70" y2="134.30" stroke="#707070" stroke-width="0.7"/>
<line x1="507.20" y1="97.40" x2="511.70" y2="97.40" stroke="#8a8a8a" stroke-width="0.5"/>
<line x1="460.95" y1="157.00" x2="509.45" y2="157.00" stroke="#9c9c9c" stroke-width="0.7"/>
<polygon points="460.95,157.00 465.85,156.05 465.85,157.95" fill="#2e2e2e"/>
<polygon points="509.45,157.00 504.55,157.95 504.55,156.05" fill="#2e2e2e"/>
<text font-size="7.85" text-anchor="middle" font-style="italic" textLength="24.65" lengthAdjust="spacing" fill="#1c1c1c" transform="translate(484.50,155.00) scale(0.751,1)">160±3</text>
<line x1="513.00" y1="111.20" x2="534.00" y2="111.20" stroke="#b0b0b0" stroke-width="0.6"/>
<line x1="520.00" y1="134.40" x2="534.00" y2="134.40" stroke="#b0b0b0" stroke-width="0.6"/>
<line x1="531.80" y1="91.00" x2="531.80" y2="140.00" stroke="#9c9c9c" stroke-width="0.7"/>
<polygon points="531.80,111.20 530.85,106.30 532.75,106.30" fill="#2e2e2e"/>
<polygon points="531.80,134.40 532.75,139.30 530.85,139.30" fill="#2e2e2e"/>
<text font-size="7.85" text-anchor="middle" font-style="italic" textLength="19.30" lengthAdjust="spacing" fill="#1c1c1c" transform="translate(528.30,130.20) rotate(-90) scale(0.855,1)">50±3</text>
<line x1="496.50" y1="87.70" x2="540.30" y2="87.70" stroke="#9c9c9c" stroke-width="0.7"/>
<polygon points="507.20,87.70 502.30,88.65 502.30,86.75" fill="#2e2e2e"/>
<polygon points="511.70,87.70 516.60,86.75 516.60,88.65" fill="#2e2e2e"/>
<line x1="507.20" y1="86.00" x2="507.20" y2="96.00" stroke="#b0b0b0" stroke-width="0.6"/>
<line x1="511.70" y1="86.00" x2="511.70" y2="96.00" stroke="#b0b0b0" stroke-width="0.6"/>
<text font-size="7.27" text-anchor="start" font-style="italic" textLength="18.88" lengthAdjust="spacing" fill="#1c1c1c" transform="translate(524.60,85.60) scale(0.784,1)">М16*</text>
<text font-size="6.98" text-anchor="start" font-style="italic" textLength="93.05" lengthAdjust="spacing" fill="#1c1c1c" stroke="#1c1c1c" stroke-width="0.2" transform="translate(377.70,274.00) scale(0.876,1)">1.&#160;&#160;*Размер&#160;&#160;для&#160;&#160;справок.</text>
<text font-size="6.98" text-anchor="start" font-style="italic" textLength="255.40" lengthAdjust="spacing" fill="#1c1c1c" stroke="#1c1c1c" stroke-width="0.2" transform="translate(377.70,283.10) scale(0.850,1)">2.&#160;&#160;Отклонение&#160;&#160;от&#160;&#160;горизонтального&#160;&#160;уровня&#160;&#160;верхней&#160;&#160;поверхности</text>
<text font-size="6.98" text-anchor="start" font-style="italic" textLength="116.19" lengthAdjust="spacing" fill="#1c1c1c" stroke="#1c1c1c" stroke-width="0.2" transform="translate(360.90,291.60) scale(0.848,1)">фундамента&#160;&#160;не&#160;&#160;более&#160;&#160;10&#160;&#160;мм.</text>
<text font-size="6.98" text-anchor="start" font-style="italic" textLength="247.66" lengthAdjust="spacing" fill="#1c1c1c" stroke="#1c1c1c" stroke-width="0.2" transform="translate(377.70,300.60) scale(0.836,1)">3.&#160;&#160;В&#160;&#160;случае&#160;&#160;отсутствия&#160;&#160;бетонного&#160;&#160;пола&#160;&#160;площадку&#160;&#160;под&#160;&#160;котел</text>
<text font-size="6.98" text-anchor="start" font-style="italic" textLength="287.62" lengthAdjust="spacing" fill="#1c1c1c" stroke="#1c1c1c" stroke-width="0.2" transform="translate(360.90,309.20) scale(0.849,1)">забетонировать.&#160;&#160;Расстояние&#160;&#160;от&#160;&#160;осей&#160;&#160;крайних&#160;&#160;колонн&#160;&#160;до&#160;&#160;края&#160;&#160;бетонной</text>
<text font-size="6.98" text-anchor="start" font-style="italic" textLength="64.95" lengthAdjust="spacing" fill="#1c1c1c" stroke="#1c1c1c" stroke-width="0.2" transform="translate(360.90,317.40) scale(0.881,1)">подушки&#160;&#160;500&#160;&#160;мм.</text>
<text font-size="6.98" text-anchor="start" font-style="italic" textLength="256.44" lengthAdjust="spacing" fill="#1c1c1c" stroke="#1c1c1c" stroke-width="0.2" transform="translate(377.70,326.60) scale(0.865,1)">4.&#160;&#160;Фундамент&#160;&#160;под&#160;&#160;котел&#160;&#160;разрабатывает&#160;&#160;проектная&#160;&#160;организация</text>
<text font-size="6.98" text-anchor="start" font-style="italic" textLength="112.25" lengthAdjust="spacing" fill="#1c1c1c" stroke="#1c1c1c" stroke-width="0.2" transform="translate(360.90,335.90) scale(0.874,1)">по&#160;&#160;нагрузкам&#160;&#160;на&#160;&#160;фундамент.</text>
</svg>
</div>
</body>
</html>
